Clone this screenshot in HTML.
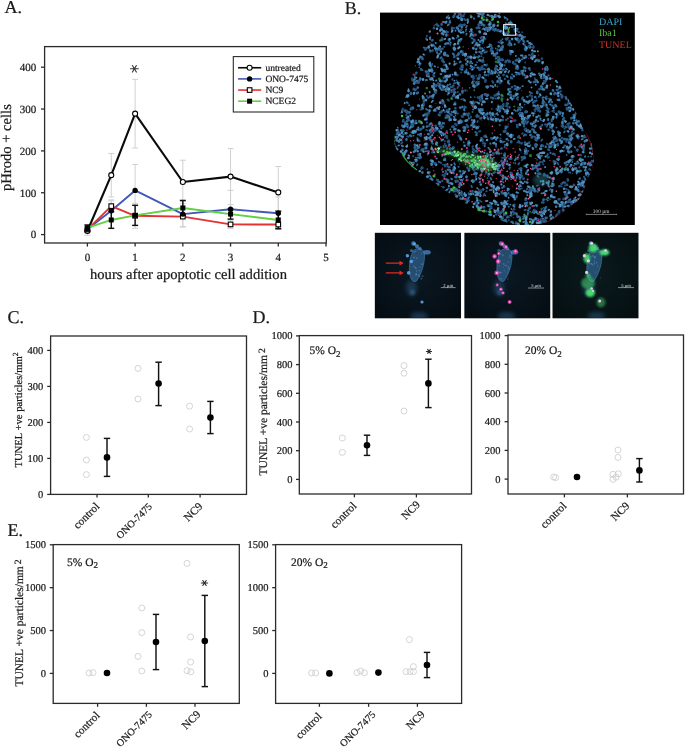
<!DOCTYPE html>
<html><head><meta charset="utf-8"><style>
html,body{margin:0;padding:0;background:#fff;}
svg{display:block;font-family:"Liberation Serif",serif;text-rendering:geometricPrecision;-webkit-font-smoothing:antialiased;will-change:transform;}
text[fill="#1a1a1a"]{stroke:#1a1a1a;stroke-width:0.22px;}
</style></head><body>
<svg width="685" height="748" viewBox="0 0 685 748">
<rect width="685" height="748" fill="#fff"/>
<text x="4.60" y="12.90" font-size="18" text-anchor="start" fill="#1a1a1a" >A.</text>
<rect x="44.60" y="46.60" width="281.70" height="196.40" stroke="#2b2b2b" stroke-width="1.3" fill="none"/>
<line x1="41.00" y1="234.60" x2="44.60" y2="234.60" stroke="#2b2b2b" stroke-width="1.3" />
<text x="36.30" y="238.40" font-size="11" text-anchor="end" fill="#1a1a1a" >0</text>
<line x1="41.00" y1="192.75" x2="44.60" y2="192.75" stroke="#2b2b2b" stroke-width="1.3" />
<text x="36.30" y="196.55" font-size="11" text-anchor="end" fill="#1a1a1a" >100</text>
<line x1="41.00" y1="150.90" x2="44.60" y2="150.90" stroke="#2b2b2b" stroke-width="1.3" />
<text x="36.30" y="154.70" font-size="11" text-anchor="end" fill="#1a1a1a" >200</text>
<line x1="41.00" y1="109.05" x2="44.60" y2="109.05" stroke="#2b2b2b" stroke-width="1.3" />
<text x="36.30" y="112.85" font-size="11" text-anchor="end" fill="#1a1a1a" >300</text>
<line x1="41.00" y1="67.20" x2="44.60" y2="67.20" stroke="#2b2b2b" stroke-width="1.3" />
<text x="36.30" y="71.00" font-size="11" text-anchor="end" fill="#1a1a1a" >400</text>
<line x1="87.40" y1="243.00" x2="87.40" y2="246.60" stroke="#2b2b2b" stroke-width="1.3" />
<text x="87.40" y="261.30" font-size="11" text-anchor="middle" fill="#1a1a1a" >0</text>
<line x1="135.12" y1="243.00" x2="135.12" y2="246.60" stroke="#2b2b2b" stroke-width="1.3" />
<text x="135.12" y="261.30" font-size="11" text-anchor="middle" fill="#1a1a1a" >1</text>
<line x1="182.84" y1="243.00" x2="182.84" y2="246.60" stroke="#2b2b2b" stroke-width="1.3" />
<text x="182.84" y="261.30" font-size="11" text-anchor="middle" fill="#1a1a1a" >2</text>
<line x1="230.56" y1="243.00" x2="230.56" y2="246.60" stroke="#2b2b2b" stroke-width="1.3" />
<text x="230.56" y="261.30" font-size="11" text-anchor="middle" fill="#1a1a1a" >3</text>
<line x1="278.28" y1="243.00" x2="278.28" y2="246.60" stroke="#2b2b2b" stroke-width="1.3" />
<text x="278.28" y="261.30" font-size="11" text-anchor="middle" fill="#1a1a1a" >4</text>
<line x1="326.00" y1="243.00" x2="326.00" y2="246.60" stroke="#2b2b2b" stroke-width="1.3" />
<text x="326.00" y="261.30" font-size="11" text-anchor="middle" fill="#1a1a1a" >5</text>
<text x="188.50" y="279.20" font-size="14.6" text-anchor="middle" fill="#1a1a1a" >hours after apoptotic cell addition</text>
<text x="0.00" y="0.00" font-size="14.6" text-anchor="middle" fill="#1a1a1a" transform="translate(10.8,147.6) rotate(-90)">pHrodo + cells</text>
<line x1="87.40" y1="226.82" x2="87.40" y2="235.19" stroke="#d0d0d0" stroke-width="1" />
<line x1="84.40" y1="226.82" x2="90.40" y2="226.82" stroke="#d0d0d0" stroke-width="1" />
<line x1="84.40" y1="235.19" x2="90.40" y2="235.19" stroke="#d0d0d0" stroke-width="1" />
<line x1="111.26" y1="153.41" x2="111.26" y2="196.94" stroke="#d0d0d0" stroke-width="1" />
<line x1="108.26" y1="153.41" x2="114.26" y2="153.41" stroke="#d0d0d0" stroke-width="1" />
<line x1="108.26" y1="196.94" x2="114.26" y2="196.94" stroke="#d0d0d0" stroke-width="1" />
<line x1="135.12" y1="79.34" x2="135.12" y2="147.97" stroke="#d0d0d0" stroke-width="1" />
<line x1="132.12" y1="79.34" x2="138.12" y2="79.34" stroke="#d0d0d0" stroke-width="1" />
<line x1="132.12" y1="147.97" x2="138.12" y2="147.97" stroke="#d0d0d0" stroke-width="1" />
<line x1="182.84" y1="160.23" x2="182.84" y2="203.76" stroke="#d0d0d0" stroke-width="1" />
<line x1="179.84" y1="160.23" x2="185.84" y2="160.23" stroke="#d0d0d0" stroke-width="1" />
<line x1="179.84" y1="203.76" x2="185.84" y2="203.76" stroke="#d0d0d0" stroke-width="1" />
<line x1="230.56" y1="148.56" x2="230.56" y2="204.64" stroke="#d0d0d0" stroke-width="1" />
<line x1="227.56" y1="148.56" x2="233.56" y2="148.56" stroke="#d0d0d0" stroke-width="1" />
<line x1="227.56" y1="204.64" x2="233.56" y2="204.64" stroke="#d0d0d0" stroke-width="1" />
<line x1="278.28" y1="166.47" x2="278.28" y2="218.36" stroke="#d0d0d0" stroke-width="1" />
<line x1="275.28" y1="166.47" x2="281.28" y2="166.47" stroke="#d0d0d0" stroke-width="1" />
<line x1="275.28" y1="218.36" x2="281.28" y2="218.36" stroke="#d0d0d0" stroke-width="1" />
<line x1="87.40" y1="225.81" x2="87.40" y2="232.51" stroke="#d0d0d0" stroke-width="1" />
<line x1="84.40" y1="225.81" x2="90.40" y2="225.81" stroke="#d0d0d0" stroke-width="1" />
<line x1="84.40" y1="232.51" x2="90.40" y2="232.51" stroke="#d0d0d0" stroke-width="1" />
<line x1="111.26" y1="200.70" x2="111.26" y2="220.79" stroke="#d0d0d0" stroke-width="1" />
<line x1="108.26" y1="200.70" x2="114.26" y2="200.70" stroke="#d0d0d0" stroke-width="1" />
<line x1="108.26" y1="220.79" x2="114.26" y2="220.79" stroke="#d0d0d0" stroke-width="1" />
<line x1="135.12" y1="164.46" x2="135.12" y2="216.35" stroke="#d0d0d0" stroke-width="1" />
<line x1="132.12" y1="164.46" x2="138.12" y2="164.46" stroke="#d0d0d0" stroke-width="1" />
<line x1="132.12" y1="216.35" x2="138.12" y2="216.35" stroke="#d0d0d0" stroke-width="1" />
<line x1="182.84" y1="201.54" x2="182.84" y2="226.65" stroke="#d0d0d0" stroke-width="1" />
<line x1="179.84" y1="201.54" x2="185.84" y2="201.54" stroke="#d0d0d0" stroke-width="1" />
<line x1="179.84" y1="226.65" x2="185.84" y2="226.65" stroke="#d0d0d0" stroke-width="1" />
<line x1="230.56" y1="190.36" x2="230.56" y2="228.03" stroke="#d0d0d0" stroke-width="1" />
<line x1="227.56" y1="190.36" x2="233.56" y2="190.36" stroke="#d0d0d0" stroke-width="1" />
<line x1="227.56" y1="228.03" x2="233.56" y2="228.03" stroke="#d0d0d0" stroke-width="1" />
<line x1="278.28" y1="196.94" x2="278.28" y2="229.58" stroke="#d0d0d0" stroke-width="1" />
<line x1="275.28" y1="196.94" x2="281.28" y2="196.94" stroke="#d0d0d0" stroke-width="1" />
<line x1="275.28" y1="229.58" x2="281.28" y2="229.58" stroke="#d0d0d0" stroke-width="1" />
<line x1="87.40" y1="226.23" x2="87.40" y2="232.93" stroke="#d0d0d0" stroke-width="1" />
<line x1="84.40" y1="226.23" x2="90.40" y2="226.23" stroke="#d0d0d0" stroke-width="1" />
<line x1="84.40" y1="232.93" x2="90.40" y2="232.93" stroke="#d0d0d0" stroke-width="1" />
<line x1="111.26" y1="199.86" x2="111.26" y2="212.42" stroke="#d0d0d0" stroke-width="1" />
<line x1="108.26" y1="199.86" x2="114.26" y2="199.86" stroke="#d0d0d0" stroke-width="1" />
<line x1="108.26" y1="212.42" x2="114.26" y2="212.42" stroke="#d0d0d0" stroke-width="1" />
<line x1="135.12" y1="203.21" x2="135.12" y2="228.32" stroke="#d0d0d0" stroke-width="1" />
<line x1="132.12" y1="203.21" x2="138.12" y2="203.21" stroke="#d0d0d0" stroke-width="1" />
<line x1="132.12" y1="228.32" x2="138.12" y2="228.32" stroke="#d0d0d0" stroke-width="1" />
<line x1="182.84" y1="206.14" x2="182.84" y2="227.07" stroke="#d0d0d0" stroke-width="1" />
<line x1="179.84" y1="206.14" x2="185.84" y2="206.14" stroke="#d0d0d0" stroke-width="1" />
<line x1="179.84" y1="227.07" x2="185.84" y2="227.07" stroke="#d0d0d0" stroke-width="1" />
<line x1="230.56" y1="220.20" x2="230.56" y2="228.57" stroke="#d0d0d0" stroke-width="1" />
<line x1="227.56" y1="220.20" x2="233.56" y2="220.20" stroke="#d0d0d0" stroke-width="1" />
<line x1="227.56" y1="228.57" x2="233.56" y2="228.57" stroke="#d0d0d0" stroke-width="1" />
<line x1="278.28" y1="221.21" x2="278.28" y2="227.90" stroke="#d0d0d0" stroke-width="1" />
<line x1="275.28" y1="221.21" x2="281.28" y2="221.21" stroke="#d0d0d0" stroke-width="1" />
<line x1="275.28" y1="227.90" x2="281.28" y2="227.90" stroke="#d0d0d0" stroke-width="1" />
<line x1="87.40" y1="224.97" x2="87.40" y2="230.83" stroke="#111" stroke-width="1.45" />
<line x1="84.40" y1="224.97" x2="90.40" y2="224.97" stroke="#111" stroke-width="1.45" />
<line x1="84.40" y1="230.83" x2="90.40" y2="230.83" stroke="#111" stroke-width="1.45" />
<line x1="111.26" y1="211.58" x2="111.26" y2="228.32" stroke="#111" stroke-width="1.45" />
<line x1="108.26" y1="211.58" x2="114.26" y2="211.58" stroke="#111" stroke-width="1.45" />
<line x1="108.26" y1="228.32" x2="114.26" y2="228.32" stroke="#111" stroke-width="1.45" />
<line x1="135.12" y1="205.31" x2="135.12" y2="225.39" stroke="#111" stroke-width="1.45" />
<line x1="132.12" y1="205.31" x2="138.12" y2="205.31" stroke="#111" stroke-width="1.45" />
<line x1="132.12" y1="225.39" x2="138.12" y2="225.39" stroke="#111" stroke-width="1.45" />
<line x1="182.84" y1="200.45" x2="182.84" y2="215.52" stroke="#111" stroke-width="1.45" />
<line x1="179.84" y1="200.45" x2="185.84" y2="200.45" stroke="#111" stroke-width="1.45" />
<line x1="179.84" y1="215.52" x2="185.84" y2="215.52" stroke="#111" stroke-width="1.45" />
<line x1="230.56" y1="209.07" x2="230.56" y2="219.12" stroke="#111" stroke-width="1.45" />
<line x1="227.56" y1="209.07" x2="233.56" y2="209.07" stroke="#111" stroke-width="1.45" />
<line x1="227.56" y1="219.12" x2="233.56" y2="219.12" stroke="#111" stroke-width="1.45" />
<line x1="278.28" y1="211.16" x2="278.28" y2="228.74" stroke="#111" stroke-width="1.45" />
<line x1="275.28" y1="211.16" x2="281.28" y2="211.16" stroke="#111" stroke-width="1.45" />
<line x1="275.28" y1="228.74" x2="281.28" y2="228.74" stroke="#111" stroke-width="1.45" />
<polyline points="87.40,231.00 111.26,175.17 135.12,113.65 182.84,181.99 230.56,176.60 278.28,192.42" fill="none" stroke="#0a0a0a" stroke-width="2.1" stroke-linejoin="round"/>
<polyline points="87.40,229.16 111.26,210.75 135.12,190.41 182.84,214.09 230.56,209.20 278.28,213.26" fill="none" stroke="#4258b8" stroke-width="1.9" stroke-linejoin="round"/>
<polyline points="87.40,229.58 111.26,206.14 135.12,215.77 182.84,216.60 230.56,224.39 278.28,224.56" fill="none" stroke="#e23232" stroke-width="1.9" stroke-linejoin="round"/>
<polyline points="87.40,227.90 111.26,219.95 135.12,215.35 182.84,207.98 230.56,214.09 278.28,219.95" fill="none" stroke="#62d040" stroke-width="1.9" stroke-linejoin="round"/>
<circle cx="87.40" cy="231.00" r="2.5" fill="#fff" stroke="#000" stroke-width="1.1"/>
<circle cx="111.26" cy="175.17" r="2.5" fill="#fff" stroke="#000" stroke-width="1.1"/>
<circle cx="135.12" cy="113.65" r="2.5" fill="#fff" stroke="#000" stroke-width="1.1"/>
<circle cx="182.84" cy="181.99" r="2.5" fill="#fff" stroke="#000" stroke-width="1.1"/>
<circle cx="230.56" cy="176.60" r="2.5" fill="#fff" stroke="#000" stroke-width="1.1"/>
<circle cx="278.28" cy="192.42" r="2.5" fill="#fff" stroke="#000" stroke-width="1.1"/>
<rect x="85.10" y="227.28" width="4.6" height="4.6" fill="#fff" stroke="#000" stroke-width="1.1"/>
<rect x="108.96" y="203.84" width="4.6" height="4.6" fill="#fff" stroke="#000" stroke-width="1.1"/>
<rect x="132.82" y="213.47" width="4.6" height="4.6" fill="#fff" stroke="#000" stroke-width="1.1"/>
<rect x="180.54" y="214.30" width="4.6" height="4.6" fill="#fff" stroke="#000" stroke-width="1.1"/>
<rect x="228.26" y="222.09" width="4.6" height="4.6" fill="#fff" stroke="#000" stroke-width="1.1"/>
<rect x="275.98" y="222.26" width="4.6" height="4.6" fill="#fff" stroke="#000" stroke-width="1.1"/>
<circle cx="87.40" cy="229.16" r="2.7" fill="#000"/>
<circle cx="111.26" cy="210.75" r="2.7" fill="#000"/>
<circle cx="135.12" cy="190.41" r="2.7" fill="#000"/>
<circle cx="182.84" cy="214.09" r="2.7" fill="#000"/>
<circle cx="230.56" cy="209.20" r="2.7" fill="#000"/>
<circle cx="278.28" cy="213.26" r="2.7" fill="#000"/>
<rect x="84.90" y="225.40" width="5" height="5" fill="#000"/>
<rect x="108.76" y="217.45" width="5" height="5" fill="#000"/>
<rect x="132.62" y="212.85" width="5" height="5" fill="#000"/>
<rect x="180.34" y="205.48" width="5" height="5" fill="#000"/>
<rect x="228.06" y="211.59" width="5" height="5" fill="#000"/>
<rect x="275.78" y="217.45" width="5" height="5" fill="#000"/>
<path d="M130.50,68.80 H138.30 M132.45,65.55 Q134.40,68.80 136.35,72.05 M136.35,65.55 Q134.40,68.80 132.45,72.05" stroke="#333" stroke-width="1.1" stroke-linecap="round" fill="none"/>
<rect x="233.30" y="56.60" width="80.50" height="55.40" stroke="#2b2b2b" stroke-width="1.1" fill="none"/>
<line x1="238.10" y1="67.75" x2="261.20" y2="67.75" stroke="#0a0a0a" stroke-width="1.6" />
<circle cx="249.60" cy="67.75" r="2.5" fill="#fff" stroke="#000" stroke-width="1.1"/>
<text x="265.40" y="70.80" font-size="9.5" text-anchor="start" fill="#1a1a1a" >untreated</text>
<line x1="238.10" y1="78.90" x2="261.20" y2="78.90" stroke="#4258b8" stroke-width="1.6" />
<circle cx="249.60" cy="78.90" r="2.7" fill="#000"/>
<text x="265.40" y="81.95" font-size="9.5" text-anchor="start" fill="#1a1a1a" >ONO-7475</text>
<line x1="238.10" y1="90.05" x2="261.20" y2="90.05" stroke="#e23232" stroke-width="1.6" />
<rect x="247.30" y="87.75" width="4.6" height="4.6" fill="#fff" stroke="#000" stroke-width="1.1"/>
<text x="265.40" y="93.10" font-size="9.5" text-anchor="start" fill="#1a1a1a" >NC9</text>
<line x1="238.10" y1="101.20" x2="261.20" y2="101.20" stroke="#62d040" stroke-width="1.6" />
<rect x="247.10" y="98.70" width="5" height="5" fill="#000"/>
<text x="265.40" y="104.25" font-size="9.5" text-anchor="start" fill="#1a1a1a" >NCEG2</text>
<text x="7.50" y="323.20" font-size="18" text-anchor="start" fill="#1a1a1a" >C.</text>
<rect x="50.60" y="336.00" width="195.90" height="158.40" stroke="#2b2b2b" stroke-width="1.3" fill="none"/>
<line x1="47.20" y1="494.40" x2="50.60" y2="494.40" stroke="#2b2b2b" stroke-width="1.3" />
<text x="43.20" y="498.00" font-size="10.5" text-anchor="end" fill="#1a1a1a" >0</text>
<line x1="47.20" y1="458.40" x2="50.60" y2="458.40" stroke="#2b2b2b" stroke-width="1.3" />
<text x="43.20" y="462.00" font-size="10.5" text-anchor="end" fill="#1a1a1a" >100</text>
<line x1="47.20" y1="422.40" x2="50.60" y2="422.40" stroke="#2b2b2b" stroke-width="1.3" />
<text x="43.20" y="426.00" font-size="10.5" text-anchor="end" fill="#1a1a1a" >200</text>
<line x1="47.20" y1="386.40" x2="50.60" y2="386.40" stroke="#2b2b2b" stroke-width="1.3" />
<text x="43.20" y="390.00" font-size="10.5" text-anchor="end" fill="#1a1a1a" >300</text>
<line x1="47.20" y1="350.40" x2="50.60" y2="350.40" stroke="#2b2b2b" stroke-width="1.3" />
<text x="43.20" y="354.00" font-size="10.5" text-anchor="end" fill="#1a1a1a" >400</text>
<line x1="97.00" y1="494.40" x2="97.00" y2="497.60" stroke="#2b2b2b" stroke-width="1.3" />
<line x1="148.30" y1="494.40" x2="148.30" y2="497.60" stroke="#2b2b2b" stroke-width="1.3" />
<line x1="200.10" y1="494.40" x2="200.10" y2="497.60" stroke="#2b2b2b" stroke-width="1.3" />
<circle cx="86.40" cy="437.40" r="3.0" fill="none" stroke="#cacaca" stroke-width="0.8"/>
<circle cx="86.40" cy="460.00" r="3.0" fill="none" stroke="#cacaca" stroke-width="0.8"/>
<circle cx="86.40" cy="474.60" r="3.0" fill="none" stroke="#cacaca" stroke-width="0.8"/>
<line x1="107.00" y1="438.40" x2="107.00" y2="476.40" stroke="#111" stroke-width="1.45" />
<line x1="103.80" y1="438.40" x2="110.20" y2="438.40" stroke="#111" stroke-width="1.45" />
<line x1="103.80" y1="476.40" x2="110.20" y2="476.40" stroke="#111" stroke-width="1.45" />
<circle cx="107.00" cy="457.40" r="3.3" fill="#000"/>
<circle cx="138.00" cy="368.40" r="3.0" fill="none" stroke="#cacaca" stroke-width="0.8"/>
<circle cx="138.00" cy="399.00" r="3.0" fill="none" stroke="#cacaca" stroke-width="0.8"/>
<line x1="158.60" y1="362.20" x2="158.60" y2="405.60" stroke="#111" stroke-width="1.45" />
<line x1="155.40" y1="362.20" x2="161.80" y2="362.20" stroke="#111" stroke-width="1.45" />
<line x1="155.40" y1="405.60" x2="161.80" y2="405.60" stroke="#111" stroke-width="1.45" />
<circle cx="158.60" cy="383.60" r="3.3" fill="#000"/>
<circle cx="189.60" cy="406.20" r="3.0" fill="none" stroke="#cacaca" stroke-width="0.8"/>
<circle cx="189.60" cy="429.00" r="3.0" fill="none" stroke="#cacaca" stroke-width="0.8"/>
<line x1="210.40" y1="401.40" x2="210.40" y2="433.60" stroke="#111" stroke-width="1.45" />
<line x1="207.20" y1="401.40" x2="213.60" y2="401.40" stroke="#111" stroke-width="1.45" />
<line x1="207.20" y1="433.60" x2="213.60" y2="433.60" stroke="#111" stroke-width="1.45" />
<circle cx="210.40" cy="417.60" r="3.3" fill="#000"/>
<text x="0" y="0" font-size="11.2" text-anchor="end" fill="#1a1a1a" transform="translate(100.20,507.10) rotate(-45)">control</text>
<text x="0" y="0" font-size="10.2" text-anchor="end" fill="#1a1a1a" transform="translate(152.70,507.10) rotate(-45)">ONO-7475</text>
<text x="0" y="0" font-size="11.2" text-anchor="end" fill="#1a1a1a" transform="translate(203.20,507.10) rotate(-45)">NC9</text>
<text x="0" y="0" font-size="10.65" fill="#1a1a1a" transform="translate(21.9,467.6) rotate(-90)">TUNEL +ve particles/mm<tspan font-size="7.8" dy="-3.9">2</tspan></text>
<text x="252.40" y="323.20" font-size="18" text-anchor="start" fill="#1a1a1a" >D.</text>
<rect x="299.30" y="335.60" width="172.20" height="158.40" stroke="#2b2b2b" stroke-width="1.3" fill="none"/>
<line x1="296.00" y1="479.40" x2="299.30" y2="479.40" stroke="#2b2b2b" stroke-width="1.3" />
<text x="292.60" y="482.90" font-size="10.5" text-anchor="end" fill="#1a1a1a" >0</text>
<line x1="296.00" y1="450.70" x2="299.30" y2="450.70" stroke="#2b2b2b" stroke-width="1.3" />
<text x="292.60" y="454.20" font-size="10.5" text-anchor="end" fill="#1a1a1a" >200</text>
<line x1="296.00" y1="422.00" x2="299.30" y2="422.00" stroke="#2b2b2b" stroke-width="1.3" />
<text x="292.60" y="425.50" font-size="10.5" text-anchor="end" fill="#1a1a1a" >400</text>
<line x1="296.00" y1="393.30" x2="299.30" y2="393.30" stroke="#2b2b2b" stroke-width="1.3" />
<text x="292.60" y="396.80" font-size="10.5" text-anchor="end" fill="#1a1a1a" >600</text>
<line x1="296.00" y1="364.60" x2="299.30" y2="364.60" stroke="#2b2b2b" stroke-width="1.3" />
<text x="292.60" y="368.10" font-size="10.5" text-anchor="end" fill="#1a1a1a" >800</text>
<line x1="296.00" y1="335.90" x2="299.30" y2="335.90" stroke="#2b2b2b" stroke-width="1.3" />
<text x="292.60" y="339.40" font-size="10.5" text-anchor="end" fill="#1a1a1a" >1000</text>
<line x1="354.40" y1="494.00" x2="354.40" y2="497.40" stroke="#2b2b2b" stroke-width="1.3" />
<line x1="416.40" y1="494.00" x2="416.40" y2="497.40" stroke="#2b2b2b" stroke-width="1.3" />
<text x="309.6" y="354.4" font-size="11.5" fill="#1a1a1a">5% O<tspan font-size="9" dy="2.6">2</tspan></text>
<circle cx="342.40" cy="438.00" r="3.0" fill="none" stroke="#cacaca" stroke-width="0.8"/>
<circle cx="342.40" cy="452.40" r="3.0" fill="none" stroke="#cacaca" stroke-width="0.8"/>
<line x1="367.00" y1="435.20" x2="367.00" y2="455.40" stroke="#111" stroke-width="1.45" />
<line x1="363.80" y1="435.20" x2="370.20" y2="435.20" stroke="#111" stroke-width="1.45" />
<line x1="363.80" y1="455.40" x2="370.20" y2="455.40" stroke="#111" stroke-width="1.45" />
<circle cx="367.00" cy="445.30" r="3.3" fill="#000"/>
<circle cx="404.00" cy="365.60" r="3.0" fill="none" stroke="#cacaca" stroke-width="0.8"/>
<circle cx="404.00" cy="373.20" r="3.0" fill="none" stroke="#cacaca" stroke-width="0.8"/>
<circle cx="404.00" cy="411.00" r="3.0" fill="none" stroke="#cacaca" stroke-width="0.8"/>
<line x1="428.40" y1="359.20" x2="428.40" y2="407.60" stroke="#111" stroke-width="1.45" />
<line x1="425.20" y1="359.20" x2="431.60" y2="359.20" stroke="#111" stroke-width="1.45" />
<line x1="425.20" y1="407.60" x2="431.60" y2="407.60" stroke="#111" stroke-width="1.45" />
<circle cx="428.40" cy="383.40" r="3.3" fill="#000"/>
<path d="M426.40,351.40 H431.60 M427.65,349.40 Q429.00,351.40 430.35,353.40 M430.35,349.40 Q429.00,351.40 427.65,353.40" stroke="#2a2a2a" stroke-width="1.05" stroke-linecap="round" fill="none"/>
<text x="0" y="0" font-size="11.2" text-anchor="end" fill="#1a1a1a" transform="translate(357.20,506.60) rotate(-45)">control</text>
<text x="0" y="0" font-size="11.2" text-anchor="end" fill="#1a1a1a" transform="translate(420.80,505.30) rotate(-45)">NC9</text>
<text x="0" y="0" font-size="11.5" fill="#1a1a1a" transform="translate(266.9,475.4) rotate(-90)">TUNEL +ve particles/mm<tspan font-size="9.6" dx="2" dy="-1.8">2</tspan></text>
<rect x="508.00" y="335.00" width="175.50" height="159.00" stroke="#2b2b2b" stroke-width="1.3" fill="none"/>
<line x1="504.60" y1="479.10" x2="508.00" y2="479.10" stroke="#2b2b2b" stroke-width="1.3" />
<text x="500.60" y="482.60" font-size="10.5" text-anchor="end" fill="#1a1a1a" >0</text>
<line x1="504.60" y1="450.40" x2="508.00" y2="450.40" stroke="#2b2b2b" stroke-width="1.3" />
<text x="500.60" y="453.90" font-size="10.5" text-anchor="end" fill="#1a1a1a" >200</text>
<line x1="504.60" y1="421.70" x2="508.00" y2="421.70" stroke="#2b2b2b" stroke-width="1.3" />
<text x="500.60" y="425.20" font-size="10.5" text-anchor="end" fill="#1a1a1a" >400</text>
<line x1="504.60" y1="393.00" x2="508.00" y2="393.00" stroke="#2b2b2b" stroke-width="1.3" />
<text x="500.60" y="396.50" font-size="10.5" text-anchor="end" fill="#1a1a1a" >600</text>
<line x1="504.60" y1="364.30" x2="508.00" y2="364.30" stroke="#2b2b2b" stroke-width="1.3" />
<text x="500.60" y="367.80" font-size="10.5" text-anchor="end" fill="#1a1a1a" >800</text>
<line x1="504.60" y1="335.60" x2="508.00" y2="335.60" stroke="#2b2b2b" stroke-width="1.3" />
<text x="500.60" y="339.10" font-size="10.5" text-anchor="end" fill="#1a1a1a" >1000</text>
<line x1="564.40" y1="494.00" x2="564.40" y2="497.40" stroke="#2b2b2b" stroke-width="1.3" />
<line x1="627.40" y1="494.00" x2="627.40" y2="497.40" stroke="#2b2b2b" stroke-width="1.3" />
<text x="525.0" y="354.4" font-size="11.5" fill="#1a1a1a">20% O<tspan font-size="9" dy="2.6">2</tspan></text>
<circle cx="553.60" cy="477.00" r="3.0" fill="none" stroke="#cacaca" stroke-width="0.8"/>
<circle cx="555.60" cy="477.60" r="3.0" fill="none" stroke="#cacaca" stroke-width="0.8"/>
<circle cx="577.00" cy="477.00" r="3.3" fill="#000"/>
<circle cx="618.00" cy="450.00" r="3.0" fill="none" stroke="#cacaca" stroke-width="0.8"/>
<circle cx="618.00" cy="457.40" r="3.0" fill="none" stroke="#cacaca" stroke-width="0.8"/>
<circle cx="613.00" cy="479.30" r="3.0" fill="none" stroke="#cacaca" stroke-width="0.8"/>
<circle cx="616.00" cy="477.20" r="3.0" fill="none" stroke="#cacaca" stroke-width="0.8"/>
<circle cx="613.00" cy="474.30" r="3.0" fill="none" stroke="#cacaca" stroke-width="0.8"/>
<circle cx="618.40" cy="473.80" r="3.0" fill="none" stroke="#cacaca" stroke-width="0.8"/>
<line x1="639.40" y1="458.60" x2="639.40" y2="482.00" stroke="#111" stroke-width="1.45" />
<line x1="636.20" y1="458.60" x2="642.60" y2="458.60" stroke="#111" stroke-width="1.45" />
<line x1="636.20" y1="482.00" x2="642.60" y2="482.00" stroke="#111" stroke-width="1.45" />
<circle cx="639.40" cy="470.40" r="3.3" fill="#000"/>
<text x="0" y="0" font-size="11.2" text-anchor="end" fill="#1a1a1a" transform="translate(567.20,506.60) rotate(-45)">control</text>
<text x="0" y="0" font-size="11.2" text-anchor="end" fill="#1a1a1a" transform="translate(630.20,506.60) rotate(-45)">NC9</text>
<text x="7.50" y="535.80" font-size="18" text-anchor="start" fill="#1a1a1a" >E.</text>
<rect x="53.20" y="544.60" width="186.10" height="158.80" stroke="#2b2b2b" stroke-width="1.3" fill="none"/>
<line x1="49.80" y1="673.40" x2="53.20" y2="673.40" stroke="#2b2b2b" stroke-width="1.3" />
<text x="46.00" y="676.90" font-size="10.5" text-anchor="end" fill="#1a1a1a" >0</text>
<line x1="49.80" y1="630.53" x2="53.20" y2="630.53" stroke="#2b2b2b" stroke-width="1.3" />
<text x="46.00" y="634.03" font-size="10.5" text-anchor="end" fill="#1a1a1a" >500</text>
<line x1="49.80" y1="587.67" x2="53.20" y2="587.67" stroke="#2b2b2b" stroke-width="1.3" />
<text x="46.00" y="591.17" font-size="10.5" text-anchor="end" fill="#1a1a1a" >1000</text>
<line x1="49.80" y1="544.80" x2="53.20" y2="544.80" stroke="#2b2b2b" stroke-width="1.3" />
<text x="46.00" y="548.30" font-size="10.5" text-anchor="end" fill="#1a1a1a" >1500</text>
<line x1="97.60" y1="703.40" x2="97.60" y2="706.80" stroke="#2b2b2b" stroke-width="1.3" />
<line x1="146.40" y1="703.40" x2="146.40" y2="706.80" stroke="#2b2b2b" stroke-width="1.3" />
<line x1="195.00" y1="703.40" x2="195.00" y2="706.80" stroke="#2b2b2b" stroke-width="1.3" />
<text x="67.0" y="565.6" font-size="11.5" fill="#1a1a1a">5% O<tspan font-size="9" dy="2.6">2</tspan></text>
<circle cx="89.00" cy="673.00" r="3.0" fill="none" stroke="#cacaca" stroke-width="0.8"/>
<circle cx="93.00" cy="672.60" r="3.0" fill="none" stroke="#cacaca" stroke-width="0.8"/>
<circle cx="107.00" cy="673.00" r="3.3" fill="#000"/>
<circle cx="141.80" cy="608.00" r="3.0" fill="none" stroke="#cacaca" stroke-width="0.8"/>
<circle cx="141.80" cy="632.60" r="3.0" fill="none" stroke="#cacaca" stroke-width="0.8"/>
<circle cx="138.00" cy="656.40" r="3.0" fill="none" stroke="#cacaca" stroke-width="0.8"/>
<circle cx="141.80" cy="671.00" r="3.0" fill="none" stroke="#cacaca" stroke-width="0.8"/>
<line x1="156.00" y1="614.40" x2="156.00" y2="669.60" stroke="#111" stroke-width="1.45" />
<line x1="152.80" y1="614.40" x2="159.20" y2="614.40" stroke="#111" stroke-width="1.45" />
<line x1="152.80" y1="669.60" x2="159.20" y2="669.60" stroke="#111" stroke-width="1.45" />
<circle cx="156.00" cy="642.00" r="3.3" fill="#000"/>
<circle cx="187.00" cy="563.40" r="3.0" fill="none" stroke="#cacaca" stroke-width="0.8"/>
<circle cx="190.60" cy="637.00" r="3.0" fill="none" stroke="#cacaca" stroke-width="0.8"/>
<circle cx="190.60" cy="662.00" r="3.0" fill="none" stroke="#cacaca" stroke-width="0.8"/>
<circle cx="187.00" cy="670.60" r="3.0" fill="none" stroke="#cacaca" stroke-width="0.8"/>
<circle cx="190.80" cy="671.80" r="3.0" fill="none" stroke="#cacaca" stroke-width="0.8"/>
<line x1="204.80" y1="595.40" x2="204.80" y2="686.60" stroke="#111" stroke-width="1.45" />
<line x1="201.60" y1="595.40" x2="208.00" y2="595.40" stroke="#111" stroke-width="1.45" />
<line x1="201.60" y1="686.60" x2="208.00" y2="686.60" stroke="#111" stroke-width="1.45" />
<circle cx="204.80" cy="641.00" r="3.3" fill="#000"/>
<path d="M201.40,583.00 H207.60 M202.80,580.50 Q204.50,583.00 206.20,585.50 M206.20,580.50 Q204.50,583.00 202.80,585.50" stroke="#2a2a2a" stroke-width="1.15" stroke-linecap="round" fill="none"/>
<text x="0" y="0" font-size="11.2" text-anchor="end" fill="#1a1a1a" transform="translate(100.50,716.10) rotate(-45)">control</text>
<text x="0" y="0" font-size="10.2" text-anchor="end" fill="#1a1a1a" transform="translate(152.70,715.10) rotate(-45)">ONO-7475</text>
<text x="0" y="0" font-size="11.2" text-anchor="end" fill="#1a1a1a" transform="translate(201.20,715.10) rotate(-45)">NC9</text>
<text x="0" y="0" font-size="11.5" fill="#1a1a1a" transform="translate(22.8,686.6) rotate(-90)">TUNEL +ve particles/mm<tspan font-size="9.6" dx="2" dy="-1.8">2</tspan></text>
<rect x="275.60" y="544.60" width="186.00" height="158.80" stroke="#2b2b2b" stroke-width="1.3" fill="none"/>
<line x1="272.20" y1="673.40" x2="275.60" y2="673.40" stroke="#2b2b2b" stroke-width="1.3" />
<text x="268.40" y="676.90" font-size="10.5" text-anchor="end" fill="#1a1a1a" >0</text>
<line x1="272.20" y1="630.53" x2="275.60" y2="630.53" stroke="#2b2b2b" stroke-width="1.3" />
<text x="268.40" y="634.03" font-size="10.5" text-anchor="end" fill="#1a1a1a" >500</text>
<line x1="272.20" y1="587.67" x2="275.60" y2="587.67" stroke="#2b2b2b" stroke-width="1.3" />
<text x="268.40" y="591.17" font-size="10.5" text-anchor="end" fill="#1a1a1a" >1000</text>
<line x1="272.20" y1="544.80" x2="275.60" y2="544.80" stroke="#2b2b2b" stroke-width="1.3" />
<text x="268.40" y="548.30" font-size="10.5" text-anchor="end" fill="#1a1a1a" >1500</text>
<line x1="319.40" y1="703.40" x2="319.40" y2="706.80" stroke="#2b2b2b" stroke-width="1.3" />
<line x1="368.60" y1="703.40" x2="368.60" y2="706.80" stroke="#2b2b2b" stroke-width="1.3" />
<line x1="417.40" y1="703.40" x2="417.40" y2="706.80" stroke="#2b2b2b" stroke-width="1.3" />
<text x="291.0" y="565.6" font-size="11.5" fill="#1a1a1a">20% O<tspan font-size="9" dy="2.6">2</tspan></text>
<circle cx="311.60" cy="673.00" r="3.0" fill="none" stroke="#cacaca" stroke-width="0.8"/>
<circle cx="315.60" cy="673.00" r="3.0" fill="none" stroke="#cacaca" stroke-width="0.8"/>
<circle cx="329.40" cy="673.40" r="3.3" fill="#000"/>
<circle cx="357.00" cy="672.60" r="3.0" fill="none" stroke="#cacaca" stroke-width="0.8"/>
<circle cx="360.60" cy="671.00" r="3.0" fill="none" stroke="#cacaca" stroke-width="0.8"/>
<circle cx="364.40" cy="672.80" r="3.0" fill="none" stroke="#cacaca" stroke-width="0.8"/>
<circle cx="378.40" cy="672.60" r="3.3" fill="#000"/>
<circle cx="409.40" cy="639.60" r="3.0" fill="none" stroke="#cacaca" stroke-width="0.8"/>
<circle cx="406.00" cy="671.60" r="3.0" fill="none" stroke="#cacaca" stroke-width="0.8"/>
<circle cx="410.00" cy="671.60" r="3.0" fill="none" stroke="#cacaca" stroke-width="0.8"/>
<circle cx="413.40" cy="671.60" r="3.0" fill="none" stroke="#cacaca" stroke-width="0.8"/>
<circle cx="413.40" cy="666.60" r="3.0" fill="none" stroke="#cacaca" stroke-width="0.8"/>
<line x1="427.00" y1="652.40" x2="427.00" y2="677.60" stroke="#111" stroke-width="1.45" />
<line x1="423.80" y1="652.40" x2="430.20" y2="652.40" stroke="#111" stroke-width="1.45" />
<line x1="423.80" y1="677.60" x2="430.20" y2="677.60" stroke="#111" stroke-width="1.45" />
<circle cx="427.00" cy="665.00" r="3.3" fill="#000"/>
<text x="0" y="0" font-size="11.2" text-anchor="end" fill="#1a1a1a" transform="translate(322.50,717.10) rotate(-45)">control</text>
<text x="0" y="0" font-size="10.2" text-anchor="end" fill="#1a1a1a" transform="translate(376.20,715.10) rotate(-45)">ONO-7475</text>
<text x="0" y="0" font-size="11.2" text-anchor="end" fill="#1a1a1a" transform="translate(425.50,715.10) rotate(-45)">NC9</text>
<text x="344.80" y="13.50" font-size="18" text-anchor="start" fill="#1a1a1a" >B.</text>
<defs><clipPath id="blob"><path d="M452,13 L500,13 L510,20 L521,30 L538,50 L550,70 L563,90 L575,110 L584,130 L591,140 L593,150 L594,160 L592,170 L587,180 L584,190 L579,200 L568,208 L558,216 L548,222 L535,225 L515,225 L508,223 L494,218 L476,210 L460,200 L444,190 L430,180 L415,170 L401,156 L394,146 L395,130 L400,114 L404,102.6 L408,88 L412.7,73.4 L417.5,58 L423,44 L428.8,29.6 L437.5,22.3 L445,17 Z"/></clipPath></defs>
<rect x="380" y="12.6" width="254.8" height="212.4" fill="#000"/>
<defs><filter id="cblur" x="0" y="0" width="100%" height="100%" filterUnits="userSpaceOnUse"><feGaussianBlur stdDeviation="0.55"/></filter></defs>
<g clip-path="url(#blob)"><g filter="url(#cblur)" fill="none" stroke-linecap="round">
<path stroke="#24507a" stroke-width="1.8" d="M496.8 152.1l0.0 0.0M427.6 144.8l-0.0 0.0M445.8 106.9l-1.1 0.4M567.0 139.5l0.0 0.0M457.9 41.8l0.4 0.2M429.7 110.5l-0.3 1.6M491.9 108.9l0.0 0.0M406.0 115.1l0.8 0.0M524.9 141.8l-0.3 0.7M562.5 96.1l-1.2 0.2M580.6 154.5l0.6 1.0M407.1 136.3l1.5 0.5M474.7 97.1l0.0 0.0M486.8 191.2l-0.7 0.3M543.5 164.2l-0.4 0.1M487.0 64.3l-0.4 1.5M528.9 55.1l-0.0 0.0M550.1 123.0l-0.0 0.0M542.1 120.6l0.0 0.0M519.1 154.9l-0.5 0.6M537.8 185.5l-1.2 0.3M525.0 202.8l0.3 0.7M494.7 153.5l-0.1 0.4M451.6 97.3l0.4 1.6M557.9 115.2l0.0 0.0M554.9 154.1l0.2 1.2M405.7 110.0l1.5 0.7M521.9 114.9l0.6 1.0M396.2 147.0l0.5 1.1M473.1 180.8l0.1 1.2M443.8 65.1l0.4 0.1M526.3 216.1l0.8 0.0M567.1 184.2l0.5 1.1M488.1 74.9l0.1 0.8M558.4 89.2l0.1 0.4M566.7 154.8l-0.1 0.4M496.4 140.3l0.0 0.0M508.8 220.2l-0.0 0.0M516.4 177.9l-0.0 0.8M445.0 141.1l-0.0 0.0M508.5 80.5l0.4 0.1M477.3 67.6l1.0 0.6M524.6 104.6l-0.0 0.0M463.3 179.0l-0.0 0.0M518.1 142.3l-0.8 0.2M504.8 194.0l-0.6 0.5M583.6 152.5l-0.0 0.0M523.8 70.0l0.0 0.0M436.8 90.6l-0.0 0.0M444.0 38.8l-0.3 0.3M463.2 24.8l-0.2 0.8M534.5 105.3l-0.0 0.0M544.2 78.0l-0.4 0.2M421.5 167.1l1.3 0.9M473.0 146.2l-0.6 0.5M460.4 41.5l0.0 0.0M471.3 160.6l0.0 0.0M540.7 120.0l0.0 0.0M457.1 37.6l-0.4 0.2M520.2 168.5l-1.1 0.5M535.5 105.4l0.2 1.2M561.6 170.6l-0.0 0.0M474.2 54.9l0.0 0.0M486.4 17.8l0.0 0.0M398.3 130.0l-1.2 0.2M574.1 114.9l1.1 0.4M554.2 112.3l0.0 0.0M458.4 160.8l-0.0 0.0M501.0 108.6l-0.7 1.4M506.0 213.3l-0.3 1.6M475.8 102.0l-0.4 0.2M397.1 132.5l-0.0 0.4M584.3 144.9l-0.3 0.2M497.5 49.1l-0.1 1.6M444.5 164.7l0.0 0.0M444.9 143.5l0.0 1.2M490.9 138.3l1.1 0.4M460.0 136.4l-0.7 0.4M402.4 125.0l-0.3 0.2M440.1 80.8l1.2 1.1M518.4 67.3l-0.5 0.6M488.2 24.8l0.9 0.8M536.0 139.6l0.3 0.3M516.3 158.1l1.4 0.9M410.1 120.7l0.0 0.0M426.3 130.0l1.2 0.3M534.8 78.1l0.3 1.2M483.3 16.1l0.9 0.8M439.5 123.7l0.0 0.0M445.1 76.9l0.0 0.0M446.2 172.5l-1.1 1.2M525.2 62.5l0.0 0.0M531.5 195.6l0.3 0.3M481.6 178.4l-1.2 0.3M413.1 156.0l0.3 0.2M479.7 207.4l0.8 0.1M444.2 110.8l0.8 1.4M484.8 68.9l0.4 0.7M432.8 151.5l0.5 0.7M460.4 174.3l0.0 0.0M412.3 124.3l0.8 0.2M561.0 186.1l0.7 0.4M563.9 209.8l-0.3 1.2M457.7 180.4l0.0 0.0M513.9 98.3l0.0 0.0M534.8 110.9l0.4 0.2M543.8 207.7l1.2 1.1M479.8 200.5l0.2 0.3M441.1 51.4l0.0 0.0M460.0 182.5l0.0 0.0M525.7 148.1l0.7 1.4M457.6 91.9l0.3 0.2M480.9 190.1l-0.2 0.3M508.9 158.3l0.0 0.0"/>
<path stroke="#24507a" stroke-width="2.2" d="M489.5 113.7l-0.0 0.0M498.7 208.1l0.0 0.0M411.0 107.8l-0.0 0.0M433.4 74.8l0.5 1.1M441.9 28.9l-0.4 0.0M579.6 155.1l-0.0 0.0M521.0 106.9l-0.4 0.0M546.4 113.7l0.0 0.0M532.3 136.4l-0.5 0.7M463.6 100.1l0.0 0.0M440.5 147.0l0.0 0.0M431.2 78.0l-1.1 0.4M462.5 51.4l0.0 0.0M449.0 145.8l0.0 0.0M489.3 114.1l-0.0 0.0M480.1 131.2l-0.8 0.2M553.4 183.8l-0.0 0.0M467.0 200.5l0.8 0.1M476.0 82.7l-0.0 0.0M511.2 135.7l0.3 0.2M530.8 134.6l-0.4 0.1M464.5 13.8l0.0 0.0M440.7 162.7l0.3 0.2M547.7 111.0l1.0 1.2M482.3 37.0l0.8 0.2M521.8 114.3l-0.0 0.0M485.7 135.4l0.1 1.6M566.5 189.1l0.2 0.4M532.1 72.8l0.0 0.0M529.7 95.3l0.4 0.0M482.8 109.3l-1.1 0.5M432.2 79.4l-0.0 0.0M543.6 101.7l1.2 1.1M450.1 152.0l-0.8 0.9M505.6 126.3l-0.0 0.0M478.5 108.9l0.9 0.7M534.2 219.7l-0.4 0.7M507.4 109.4l-0.3 0.3M537.4 175.7l0.8 0.9M467.3 150.6l-0.4 1.1M508.4 44.6l1.0 0.7M516.3 175.8l-0.0 0.0M491.8 17.3l0.3 0.3M466.6 179.5l1.1 0.5M447.3 147.7l-0.2 1.2M494.8 16.4l0.0 0.0M515.2 30.9l-0.3 0.7M473.4 106.6l0.0 0.4M589.3 169.0l0.9 0.8M455.1 89.1l-0.6 0.5M407.8 103.1l-0.0 0.0M427.0 122.7l-0.0 0.0M528.8 115.8l0.4 0.2M506.1 195.6l-0.8 0.0M566.2 141.7l0.0 0.0M468.1 141.9l-0.1 0.4M578.8 191.5l0.8 0.0M402.2 142.4l-1.0 1.2M477.9 207.9l0.0 0.0M514.8 25.3l-0.4 0.7M447.8 99.6l0.9 0.8M454.3 49.6l-0.0 0.0M416.5 88.8l-0.6 0.6M497.1 53.5l0.0 0.0M436.9 179.5l-0.0 0.0M474.2 107.8l-0.0 0.0M432.2 64.1l-0.5 1.1M521.7 188.5l-0.0 0.0M457.8 113.6l0.0 0.0M541.4 211.0l0.0 0.0M463.1 99.1l0.0 0.0M549.1 129.6l-0.8 0.1M477.7 97.3l0.9 0.8M532.5 53.1l-0.5 1.5M500.4 138.6l-0.0 0.0M536.8 106.5l-0.6 1.0M496.1 214.1l0.3 0.3M565.0 185.5l0.0 0.0M482.2 170.9l-0.1 1.2M519.5 178.9l0.4 0.1M446.4 43.0l0.0 0.0M449.9 20.6l0.1 1.6M462.1 24.8l-1.1 1.1M423.5 115.1l0.3 0.3M536.2 109.1l-1.5 0.5M504.9 130.5l0.0 1.2M539.4 96.2l-0.6 0.6M430.4 51.4l-0.2 0.3M503.6 104.2l-0.0 0.0M466.7 113.5l-0.0 0.0M485.2 143.8l0.0 0.0M496.9 81.4l0.4 0.7M448.5 180.0l0.1 0.4M512.9 135.1l-0.6 1.0M470.4 68.5l0.0 0.0M531.7 73.8l-0.8 0.9M513.5 211.6l0.0 0.0M546.9 125.4l-0.0 1.2M441.9 24.4l-0.3 0.7M532.3 56.3l1.1 1.1M446.3 115.4l-0.0 0.0M447.7 87.7l-0.2 0.4M526.8 203.1l-0.0 0.0M501.0 72.3l0.0 0.0M548.9 145.0l0.0 0.0M545.1 124.5l0.7 0.3M487.0 113.6l-0.0 0.0M496.9 69.0l0.0 0.0M488.0 164.9l0.3 0.3M496.8 95.5l-0.0 0.0M562.7 207.0l0.2 0.3M515.8 222.3l0.0 0.0M440.7 27.8l0.2 0.4M469.9 73.6l-0.4 0.7M467.1 167.7l0.8 0.9M486.3 211.2l0.3 0.3M422.0 149.7l1.4 0.8M492.3 81.2l0.9 1.3M540.6 156.4l-0.7 1.4M506.1 105.9l1.5 0.6M472.8 169.4l0.0 0.0M452.4 79.4l0.0 0.0M540.5 162.0l-0.7 0.4M470.7 63.4l-0.0 0.0M515.0 88.8l-0.4 0.2M568.7 191.7l1.1 1.2M502.7 181.6l-0.0 0.0M528.1 151.0l-1.0 0.6M507.0 75.9l-0.4 0.1M444.9 71.6l0.8 0.1M515.5 120.4l-1.6 0.3M525.6 198.2l0.4 0.0M557.9 143.6l-0.7 1.0M497.4 86.6l-0.0 0.0M477.5 204.3l0.1 0.4M535.8 190.8l0.0 0.4"/>
<path stroke="#24507a" stroke-width="2.6" d="M442.6 80.8l-0.0 0.4M446.9 136.2l-1.2 0.2M533.6 46.4l-0.3 1.2M453.4 85.6l-1.0 1.2M429.7 179.5l0.0 0.0M428.3 97.7l-0.0 0.0M522.0 38.5l0.5 0.6M469.3 168.8l-0.0 0.0M565.0 182.5l-0.1 0.4M407.0 124.4l0.7 1.4M558.0 95.5l-0.0 0.0M525.9 128.9l-1.0 0.6M491.0 97.5l0.0 0.0M462.2 107.1l0.0 0.0M528.9 68.6l-0.0 0.0M401.2 112.2l-0.0 0.0M484.2 207.4l-0.0 0.0M531.5 188.4l-1.2 0.0M461.5 29.5l-1.0 0.7M562.0 169.5l-0.2 0.8M468.7 113.6l0.4 0.1M561.6 183.9l-0.0 0.0M421.4 150.2l-0.0 0.0M476.7 28.1l0.0 0.0M462.2 121.6l0.0 0.0M397.4 133.4l0.0 0.0M517.3 125.7l0.0 1.2M537.8 219.1l-1.0 0.6M473.0 148.8l0.8 1.4M552.3 178.4l-0.3 0.3M411.4 122.2l0.0 0.4M448.6 91.6l0.5 0.6M506.9 194.5l-0.0 0.0M496.3 65.9l-0.1 0.4M561.7 141.4l-0.3 0.2M493.6 72.2l0.5 0.7M461.9 116.4l0.7 0.3M537.4 121.1l-0.0 0.0M584.4 162.7l0.1 0.4M444.6 175.3l-0.3 1.2M442.7 88.1l0.3 1.6M500.2 82.9l0.0 0.0M414.0 131.1l-0.8 0.3M423.0 98.8l0.0 0.0M455.4 123.9l1.1 1.2M413.9 123.6l0.0 0.0M485.6 80.0l-0.3 1.6M429.0 134.0l-0.8 0.2M510.1 51.3l0.0 0.0M564.4 198.9l-0.8 0.1M421.2 128.9l-0.9 0.8M569.6 192.1l-0.2 0.8M474.2 170.4l-0.0 0.0M480.5 47.9l0.6 0.5M479.7 75.0l-0.1 1.6M425.8 38.4l-0.0 0.0M473.1 104.6l-1.1 0.4M490.3 164.3l0.8 0.1M511.7 26.6l1.2 0.2M493.2 153.3l0.0 0.0M411.7 78.6l0.0 0.0M484.3 114.9l-0.1 0.8M563.8 203.5l0.2 0.8M403.3 134.5l-0.0 0.0M482.1 207.2l-0.0 0.0M465.4 90.5l-0.0 0.0M401.3 108.6l1.2 0.1M459.2 85.5l0.0 0.0M455.0 102.7l0.0 0.0M548.4 108.9l-0.3 0.2M488.9 174.5l-0.8 0.0M565.4 194.2l1.4 0.7M434.0 25.3l0.0 0.0M426.0 113.9l0.1 0.8M503.6 74.7l-0.1 0.4M583.7 136.9l-0.0 0.0M498.0 211.7l0.8 1.4M472.8 76.5l0.9 1.3M495.9 210.9l-0.4 0.7M473.6 166.7l0.3 0.2M482.4 66.3l-1.0 1.3M567.7 179.3l0.2 1.2M503.5 31.9l0.2 1.6M483.9 50.3l-0.6 0.5M493.6 188.8l-0.8 0.2M566.7 148.4l0.0 0.0M531.9 96.4l0.0 0.0M559.2 211.8l-0.4 0.7M463.6 127.8l1.5 0.6M519.7 40.5l-1.6 0.1M542.4 162.0l-0.0 0.0M442.6 133.2l-0.7 1.4M514.4 63.9l1.1 0.4M437.1 50.4l-0.8 0.2M539.4 116.2l-0.0 0.0M548.6 157.3l-0.8 0.0M544.8 81.8l0.1 0.8M573.0 169.3l0.1 0.8M423.3 149.0l-1.3 0.9M464.3 127.0l-1.1 0.5M542.0 58.6l0.0 0.0M562.2 138.0l0.0 0.0M530.0 45.5l-1.3 1.0M406.0 125.0l0.4 0.7M568.7 126.5l-0.3 0.3M553.7 137.6l1.1 0.5M567.0 139.6l1.2 0.2M485.1 38.7l-0.0 0.0M458.7 135.8l0.0 0.0M472.2 83.0l-0.0 0.0M564.8 145.7l0.0 0.0M522.8 97.5l-0.5 1.5M524.5 166.0l0.0 0.0M416.2 73.2l0.0 0.0M450.7 119.1l-1.2 1.1M554.4 144.2l-0.4 0.2M582.5 130.2l0.0 0.0M587.0 171.9l0.0 0.0M432.9 97.8l-0.0 0.0M454.8 92.0l0.0 0.0M569.5 123.3l-0.7 0.5M444.4 77.4l-0.7 0.4M544.2 174.0l1.0 1.3M473.0 75.9l0.4 0.7M572.3 159.5l0.0 0.0M471.8 32.3l0.4 0.1M526.6 123.4l0.0 0.0M467.9 144.5l0.9 0.8M467.3 120.4l-1.6 0.1M437.1 108.0l-0.0 0.0M457.7 16.5l-0.7 0.4M456.7 75.0l0.8 0.1M491.1 116.6l-0.4 0.7M498.9 57.4l0.0 0.0M569.2 206.6l0.0 0.0M507.9 31.8l-1.1 1.1"/>
<path stroke="#2c5e8a" stroke-width="1.8" d="M546.5 199.1l-0.3 0.2M510.7 194.7l-0.0 0.0M468.6 193.1l0.5 1.5M456.6 188.7l0.7 1.4M561.0 91.1l-0.9 0.7M492.6 203.3l-0.0 0.0M476.1 126.5l-0.0 0.0M396.5 134.3l0.0 0.4M465.9 31.0l0.0 0.0M531.2 93.2l0.8 0.1M564.9 131.5l0.0 0.0M591.1 156.4l0.0 0.0M546.3 110.3l-0.0 0.0M469.6 87.8l-0.0 0.0M527.0 77.2l-0.1 0.4M436.4 183.3l0.0 0.0M478.5 189.2l0.1 0.4M480.1 208.4l-1.0 0.7M531.3 224.9l-0.8 0.3M427.4 169.2l0.0 0.0M457.1 55.1l-0.9 0.8M559.3 156.7l-0.4 0.2M481.8 15.9l-0.0 0.0M427.4 177.5l-0.2 0.3M520.9 115.4l0.8 0.1M461.3 99.3l0.0 0.0M570.6 110.1l-0.9 1.3M421.0 123.2l-0.0 0.0M408.9 105.2l0.4 0.1M566.0 167.5l0.0 0.0M502.6 142.2l0.0 0.0M502.7 142.4l0.0 0.0M501.4 153.4l-0.0 0.0M395.8 146.3l-0.0 0.0M591.9 160.7l0.0 0.0M508.0 139.9l0.5 0.7M443.0 89.3l-1.4 0.8M427.0 96.0l-0.0 0.0M566.5 184.9l0.0 0.0M450.0 108.9l0.0 0.0M463.7 142.1l0.1 0.4M419.2 67.4l-0.0 0.0M483.7 13.9l-1.1 0.4M439.1 130.2l-0.0 0.0M456.3 63.4l0.4 0.1M430.4 64.0l-0.0 0.0M476.0 176.0l-0.2 1.2M409.5 127.9l0.0 1.2M568.0 168.3l-1.1 1.1M450.3 172.0l-0.0 0.0M466.5 64.3l-0.0 0.0M454.3 166.7l-0.9 0.7M549.0 98.5l0.0 0.0M494.6 116.5l0.0 0.0M442.0 37.9l-0.0 0.0M534.6 113.1l-1.1 0.4M513.7 24.3l-0.0 0.0M496.2 94.1l1.2 0.1M502.6 116.4l0.6 1.1M490.6 114.6l0.2 0.8M552.8 179.3l0.2 0.8M454.0 88.8l0.0 0.0M431.1 65.9l0.0 0.0M427.2 72.7l-0.0 0.4M417.0 149.2l-0.4 0.7M542.2 139.5l-0.9 1.3M442.2 139.8l-0.8 0.9M419.0 81.5l-0.3 0.7M465.2 113.8l0.0 0.0M432.2 143.3l0.7 0.4M479.6 47.2l0.5 1.1M471.4 185.7l0.5 1.5M478.9 81.6l-0.0 0.4M466.8 202.6l-0.0 0.0M495.5 55.4l-0.1 0.8M578.6 189.6l0.0 0.0M501.4 107.2l-1.2 1.0M536.7 100.6l-1.5 0.6M546.9 143.8l0.7 0.3M521.0 171.8l0.6 1.5M491.0 158.0l0.0 0.0M510.8 77.0l0.2 1.6M475.9 127.2l0.6 1.5M422.5 70.2l-0.0 0.0M499.6 125.0l0.3 0.2M518.3 68.2l-0.0 0.0M414.7 76.5l-0.0 1.2M471.1 57.7l-0.5 0.6M567.1 139.0l-0.7 1.0M525.2 36.8l0.0 0.0M409.7 161.7l0.5 0.6M477.0 62.2l-0.0 0.0M481.0 151.8l0.7 0.4M400.7 151.2l0.0 0.0M488.6 176.0l0.0 0.0M487.5 178.1l-0.0 0.0M519.3 163.1l-0.9 1.3M525.7 209.8l-1.2 0.3M417.5 164.2l-0.6 1.0M510.2 167.6l-0.4 0.2M573.9 184.4l-0.5 1.5M473.8 152.9l0.0 0.0M446.2 145.5l-0.7 1.0M511.2 77.5l1.2 1.1M501.0 47.3l0.0 0.0M475.2 151.0l0.1 0.4M494.1 24.3l0.3 1.2M509.1 60.4l-0.4 1.5"/>
<path stroke="#2c5e8a" stroke-width="2.2" d="M516.9 59.6l0.0 0.0M491.5 208.2l0.0 0.0M507.6 60.3l0.0 0.0M416.5 72.6l0.0 0.0M585.1 156.4l0.0 0.4M449.4 41.0l0.0 0.0M448.1 15.1l-0.6 1.5M464.9 129.2l-0.3 0.2M547.8 154.3l-0.0 0.0M404.9 126.0l-0.7 1.0M535.4 167.6l-0.8 0.2M484.7 74.9l-0.0 0.0M503.4 106.0l-0.0 0.0M550.0 127.0l1.6 0.4M467.5 152.2l-0.0 0.0M448.8 92.4l-0.4 0.7M439.9 112.3l1.1 0.4M474.3 180.7l-0.3 0.3M474.4 125.6l0.0 0.0M428.5 73.4l-0.2 0.4M515.0 213.2l-0.0 0.0M499.3 170.9l0.8 0.1M510.5 195.1l1.4 0.8M574.7 168.5l0.4 0.2M532.1 129.4l1.6 0.3M539.2 137.9l-1.1 0.5M523.4 216.7l0.0 0.0M535.6 132.5l-1.2 0.0M500.0 79.3l-0.0 0.0M514.5 204.7l0.0 0.0M508.5 193.2l0.0 0.0M590.6 162.8l-0.0 0.0M510.9 52.9l-0.5 0.6M474.0 86.1l1.6 0.1M518.0 109.7l0.0 0.0M481.6 117.8l-1.4 0.7M510.0 91.9l0.8 0.0M417.9 157.5l0.4 0.1M563.7 151.1l-0.4 0.0M516.3 223.5l-0.3 0.2M498.5 92.2l-0.0 0.0M481.5 137.9l-0.3 0.2M453.4 169.0l0.8 0.9M473.2 101.5l0.6 1.5M413.9 89.2l1.3 1.0M557.7 92.4l-0.6 1.5M486.3 75.1l-0.0 0.0M470.5 164.4l-0.0 0.0M411.9 127.1l0.0 0.0M456.3 196.3l-0.0 0.0M518.7 42.0l-0.1 0.4M503.4 167.6l0.0 0.0M524.2 217.5l-0.3 0.3M576.3 112.2l-0.2 1.2M520.0 88.0l-1.3 1.0M478.5 24.5l0.3 0.7M584.8 178.3l0.5 1.5M445.7 170.8l-0.0 0.0M568.6 205.8l-0.0 0.0M573.0 202.1l-1.2 0.1M583.1 184.9l0.2 1.2M501.8 148.3l-0.7 0.4M435.1 46.9l0.3 1.6M488.6 161.9l-0.3 0.3M481.3 25.1l0.0 0.0M504.6 65.3l0.0 0.0M532.7 221.1l-0.0 0.0M527.0 189.1l0.0 0.0M518.0 172.9l-0.8 0.1M538.6 163.5l0.0 0.8M435.7 91.7l-0.0 1.2M579.4 167.4l0.0 0.0M530.4 145.3l0.0 0.0M568.2 103.2l0.6 0.5M570.7 138.4l-0.2 0.4M455.7 154.3l0.8 0.0M490.4 208.8l-0.7 0.4M591.7 144.1l0.2 1.6M516.0 68.5l1.5 0.6M498.3 150.8l-1.0 1.3M482.6 15.0l-0.1 0.4M463.2 171.0l0.1 0.4M458.2 121.7l-0.0 0.0M535.4 173.3l-0.0 0.0M416.7 159.5l0.4 0.7M423.3 150.6l-0.6 0.5M583.7 162.8l-1.6 0.3M475.5 132.1l1.3 1.0M558.8 111.4l-0.2 0.8M489.3 72.3l-0.1 0.4M468.8 141.2l-0.0 0.4M572.9 156.2l0.8 0.1M568.3 149.0l-0.1 1.6M513.1 61.9l-0.0 1.2M540.8 168.8l-0.8 0.2M427.2 71.7l0.1 0.8M447.8 141.3l-0.0 0.0M458.6 166.8l0.0 0.0M519.6 108.5l0.9 1.3M415.6 132.5l-1.2 0.1M442.3 180.8l0.0 0.0M527.5 130.2l0.8 0.1M590.7 162.4l0.0 0.0M408.5 118.7l0.1 1.6M405.4 152.5l-0.2 0.3M430.4 139.8l1.2 0.2M412.5 124.6l-1.2 0.1M548.6 75.4l-0.0 0.0M504.7 156.6l0.5 1.5M551.7 121.1l-0.0 0.0M484.1 167.5l0.9 0.8M542.0 145.7l1.2 0.2M489.7 23.4l0.2 0.8M430.1 62.3l-0.0 0.0M482.2 61.4l0.0 0.0M573.5 156.3l-0.3 0.2M507.7 204.0l-0.0 0.0M546.8 155.7l-0.0 0.0M441.7 125.1l-0.4 1.1M494.6 168.5l0.7 0.3M553.2 118.7l-1.4 0.8M481.8 114.1l0.4 0.2"/>
<path stroke="#2c5e8a" stroke-width="2.6" d="M493.0 166.0l0.4 0.2M562.1 202.3l0.0 0.0M459.6 121.3l1.1 1.2M413.1 126.2l-0.8 0.2M537.7 135.4l-0.0 0.0M547.3 175.6l0.4 1.1M579.0 121.1l-0.1 0.4M484.5 136.2l0.0 0.0M409.2 112.5l-0.0 0.0M510.1 94.7l0.3 0.3M557.9 145.3l0.0 0.0M538.1 169.7l-0.5 1.1M448.9 141.3l0.0 0.0M546.7 217.8l0.0 0.0M414.7 147.4l0.8 1.4M513.5 195.8l-0.0 0.0M463.4 15.9l0.0 0.0M495.4 68.3l-0.0 1.6M502.4 47.5l-0.6 0.5M525.0 153.4l1.6 0.0M499.7 59.3l-1.4 0.8M487.3 153.8l0.5 1.5M426.1 48.4l-0.0 0.0M480.7 52.1l0.8 1.4M506.2 178.8l-0.0 0.0M420.4 129.2l-0.0 0.0M524.0 67.4l1.4 0.8M565.8 97.2l0.5 1.5M513.2 178.1l0.0 0.0M572.3 109.3l-0.0 0.0M494.7 137.3l-0.4 0.7M454.1 15.9l-0.6 1.0M483.3 160.1l-0.0 1.2M439.0 114.7l0.6 0.5M423.8 101.4l0.0 0.0M456.7 176.3l-1.4 0.7M489.8 44.6l1.3 1.0M583.7 145.7l0.0 0.0M518.4 60.7l0.4 0.0M483.0 60.3l0.0 0.4M464.5 24.8l0.0 0.0M422.7 108.5l0.0 0.0M443.0 61.1l0.7 1.0M536.0 80.2l-0.3 1.6M564.9 139.0l-0.8 0.2M452.1 27.9l0.0 1.6M502.3 187.8l-0.0 0.0M521.2 168.3l-0.7 0.4M495.6 194.3l1.1 1.2M509.6 42.7l0.8 0.9M431.9 44.7l0.1 1.2M532.7 126.0l-0.0 0.0M462.6 65.6l-0.8 0.2M431.0 106.2l0.2 0.8M559.4 186.3l0.0 0.0M560.4 88.0l0.0 0.0M523.2 40.5l0.9 1.3M550.2 216.1l-0.0 0.0M502.1 192.9l0.1 0.4M553.8 161.3l0.0 0.0M460.7 198.5l-0.3 0.3M551.6 195.1l0.0 0.0M551.8 102.1l0.0 0.0M493.8 25.0l0.4 0.1M571.5 203.9l0.1 0.4M492.0 48.1l-0.8 0.9M547.1 67.8l0.4 1.1M507.0 103.6l0.8 0.1M511.3 141.4l-0.1 0.8M403.4 130.6l0.0 0.0M524.3 156.9l0.6 1.0M521.8 157.2l-0.0 0.0M455.9 96.7l-0.0 0.0M572.8 117.6l-1.5 0.6M502.1 49.6l-0.0 0.0M511.3 215.4l0.0 0.0M502.7 59.9l-0.8 0.0M455.4 108.3l0.0 0.0M563.9 118.2l-0.7 1.0M506.5 39.4l-0.0 0.0M540.5 127.1l-0.4 0.2M474.4 39.9l-0.3 1.2M492.5 98.0l0.8 0.2M531.8 137.5l-0.0 0.0M478.1 27.5l1.2 0.2M539.1 164.7l-0.2 0.4M458.0 55.1l-0.0 0.0M446.9 77.0l-0.2 1.6M565.7 126.9l0.0 0.4M432.5 40.2l-0.4 0.2M584.1 186.8l0.0 0.0M574.5 198.7l0.0 0.0M533.8 82.1l0.0 0.0M527.7 121.7l-0.0 0.0M548.9 181.3l-0.4 0.7M554.9 92.9l-0.4 1.1M545.5 221.1l-0.2 1.2M501.7 192.0l0.0 0.0M544.6 76.4l-0.7 0.3M541.4 221.9l-0.5 1.5M436.3 23.4l-0.3 0.7M459.8 14.0l0.9 0.8M454.3 57.0l-0.0 0.0M476.6 151.3l0.4 0.1M519.1 188.4l0.6 0.6M525.7 47.2l0.7 0.4M422.0 57.5l0.6 1.5M524.1 37.2l-0.0 0.0M448.5 182.6l0.7 0.3M484.3 25.4l-0.0 0.0M413.8 162.9l-0.7 0.3M487.0 29.6l0.6 0.6M420.8 134.1l-0.1 0.4M437.5 25.3l0.7 0.5M442.4 48.8l-0.0 0.0M496.2 167.6l0.0 0.0M411.1 92.9l-0.3 0.8M565.5 104.9l1.2 0.1M569.8 135.8l-0.2 0.8M555.5 161.9l-0.7 0.4M521.5 71.0l0.4 1.6M405.2 122.6l0.1 1.6M446.3 31.6l0.0 0.0M449.0 167.3l0.4 0.0M546.6 79.0l-0.6 1.5M421.1 69.4l-0.0 0.0M472.7 83.2l-0.0 0.0"/>
<path stroke="#346c9a" stroke-width="1.8" d="M522.2 31.9l-0.0 0.0M563.3 182.1l-0.4 0.7M430.0 96.1l-0.0 0.8M544.7 72.2l0.5 0.6M567.6 164.7l-1.5 0.6M499.8 13.0l-0.3 0.2M536.4 80.1l0.7 0.3M524.7 134.5l-0.9 1.3M446.0 190.5l-1.0 0.6M469.1 197.1l-1.0 1.3M534.9 57.3l0.0 0.0M582.8 138.9l-1.1 0.5M436.8 52.5l0.5 0.6M507.6 109.7l-0.7 0.3M517.2 93.8l-0.0 0.0M504.0 213.5l-0.1 1.6M526.4 219.7l-0.4 0.7M481.4 191.8l-0.9 1.3M512.7 223.0l-0.0 0.0M488.2 147.6l1.1 1.2M423.7 47.6l1.2 0.2M527.8 214.7l0.0 0.0M483.8 206.9l-0.2 0.4M446.1 164.3l-0.0 0.0M505.7 23.1l1.1 1.1M517.9 38.1l-0.8 0.2M491.5 190.0l-1.6 0.2M550.4 189.2l0.0 0.0M397.7 127.7l0.0 0.0M517.2 89.0l-0.4 1.5M460.1 182.6l-0.4 1.1M499.2 77.7l0.0 0.0M472.8 104.8l0.4 0.1M522.8 56.8l0.0 0.0M503.0 45.7l-0.0 0.0M472.5 34.7l-0.8 0.2M552.8 181.3l0.2 0.3M550.6 152.8l-0.3 0.2M543.6 160.2l0.8 0.9M507.2 161.2l-0.0 0.0M503.9 33.5l-0.4 0.1M466.5 33.6l-0.1 1.2M501.3 67.5l-1.6 0.4M495.7 48.3l0.0 0.0M429.8 50.0l1.3 1.0M551.9 183.1l0.0 0.0M472.5 190.7l0.0 1.2M448.6 75.6l0.6 1.0M398.6 131.9l-0.8 0.9M461.5 191.3l0.2 1.2M441.5 57.1l-1.2 1.1M569.0 192.2l0.0 0.0M450.2 74.6l-0.5 1.1M503.0 217.1l0.0 0.0M570.8 146.7l-0.4 0.1M572.6 170.0l0.4 0.2M476.7 172.9l0.3 0.3M558.4 199.2l0.3 0.3M466.5 69.4l0.1 1.2M407.2 126.4l0.5 1.1M584.2 135.5l0.4 0.2M501.2 219.0l-0.0 0.0M478.7 67.3l-1.5 0.5M439.3 107.7l-0.0 0.0M520.6 185.1l0.0 0.0M451.3 90.2l-0.0 0.8M430.3 37.2l-0.2 0.3M547.5 69.9l-0.1 0.4M422.8 149.3l-0.4 0.1M582.7 180.6l-0.4 0.1M430.7 136.1l-0.3 0.3M429.7 175.7l0.9 0.8M504.8 144.8l1.6 0.3M547.5 200.2l0.2 0.3M451.6 31.7l0.2 0.3M574.7 146.9l0.5 0.6M482.5 94.8l-0.4 0.7M431.8 68.5l-1.2 1.1M502.5 39.1l-0.0 0.0M401.9 115.6l0.5 0.6M542.7 219.9l-0.0 0.0M479.2 192.0l-0.2 1.2M570.4 199.3l-1.4 0.8M466.8 25.9l-0.7 1.5M511.4 22.4l0.6 1.1M498.0 15.5l-0.2 0.4M471.6 38.2l1.1 0.4M496.3 119.7l-0.0 0.0M504.8 205.2l-1.2 0.2M484.8 145.7l-0.1 0.8M571.6 137.8l0.2 1.6M472.6 151.9l0.2 0.4M539.3 173.9l1.2 0.0M443.1 126.7l-0.1 0.4M481.1 210.3l0.1 0.4M455.5 115.4l-0.0 0.0M490.5 157.8l-0.0 0.0M496.7 188.7l0.4 0.0M573.8 108.6l-0.0 0.0M517.1 65.4l0.0 0.0M490.6 178.0l0.7 1.5M511.4 209.0l-0.0 0.0M542.0 155.6l-1.6 0.2M564.0 132.3l0.0 0.0M537.1 213.3l0.7 0.5M451.7 111.8l0.8 0.3M479.3 208.1l-0.2 0.3M548.4 185.6l1.0 1.2M413.5 135.7l0.0 0.0M567.8 108.1l0.2 0.3M459.3 195.7l0.0 0.0M485.0 162.4l0.0 0.0M444.2 46.8l-0.0 0.0M527.0 96.6l0.7 0.3M486.0 52.2l-1.5 0.5M464.7 108.5l-0.4 0.1M568.8 143.0l-0.0 0.0M426.1 109.0l1.3 0.9M572.2 161.9l-0.0 0.0M461.5 18.1l-0.0 0.0M510.6 44.5l0.9 0.8M498.3 29.8l-1.1 0.4M537.4 205.3l-0.6 1.0M574.9 114.5l-1.6 0.3M454.3 163.3l0.7 1.4M485.9 136.8l0.7 0.3M561.5 143.2l0.0 0.0"/>
<path stroke="#346c9a" stroke-width="2.2" d="M525.2 144.3l-0.4 0.0M471.0 58.4l-0.0 0.0M406.9 102.4l0.0 0.0M459.2 190.3l-1.0 0.7M482.9 24.5l0.5 0.7M476.7 135.0l-0.4 0.1M479.3 51.9l-0.0 0.0M512.5 221.9l-1.2 0.0M434.8 84.9l-1.2 0.1M489.7 15.8l0.0 0.0M481.4 95.9l0.4 1.1M545.4 217.7l0.3 0.7M473.6 67.9l-0.9 0.8M490.4 143.7l-0.0 0.0M452.9 53.6l1.0 1.2M528.5 143.1l-1.4 0.8M502.4 46.5l0.4 0.7M401.6 109.5l-0.1 1.2M439.6 84.2l0.7 0.3M541.3 86.2l-0.3 0.2M473.2 109.5l0.0 0.0M471.5 76.1l0.3 0.7M533.1 219.9l0.1 0.8M465.0 55.8l0.3 0.3M483.1 19.6l-0.2 0.3M579.9 178.5l-0.4 0.2M558.8 99.6l-1.2 0.2M438.9 161.9l-0.0 0.0M409.9 135.3l1.4 0.9M505.7 219.6l-1.0 0.7M528.5 191.6l0.2 0.3M449.9 84.4l-0.0 0.0M543.3 97.4l-0.7 0.4M447.3 86.1l0.0 0.0M462.3 106.9l-0.0 0.0M556.2 171.9l1.1 0.5M496.4 58.3l-0.4 0.1M446.1 179.2l1.4 0.8M455.5 181.0l1.1 0.4M447.6 115.3l0.6 0.5M534.2 101.5l-1.1 1.2M534.2 220.2l-0.3 0.2M431.2 129.1l-0.7 1.0M426.7 80.0l-0.8 0.2M477.0 115.1l-0.5 1.1M447.0 87.2l0.0 0.0M412.1 166.3l-0.4 0.2M537.5 168.7l0.0 0.0M458.4 131.0l1.2 0.2M442.5 59.1l-0.0 0.0M553.9 142.4l0.0 0.0M576.4 120.5l0.8 1.4M577.6 125.0l-0.3 0.2M530.7 47.2l-0.7 0.4M501.0 31.0l0.4 0.2M560.6 112.3l-0.5 1.5M523.1 74.8l0.0 0.0M451.2 114.8l0.2 0.3M447.8 85.2l-0.0 0.0M474.0 18.7l-0.0 0.0M422.3 106.0l0.3 1.6M543.7 101.5l-1.1 0.6M520.0 217.5l-0.2 0.3M507.1 217.4l0.8 0.0M441.1 74.0l-0.4 0.1M453.1 172.6l0.6 0.6M460.5 61.7l-0.7 0.4M545.9 207.0l-0.4 1.5M517.7 110.7l0.0 0.0M510.0 50.7l0.9 0.8M552.9 217.1l1.0 1.3M538.7 154.4l0.0 0.0M539.0 73.6l0.4 0.1M439.6 53.7l-1.0 0.7M520.0 204.8l-0.0 0.0M553.8 138.3l-0.0 0.0M477.3 194.4l0.8 0.2M454.3 92.3l1.1 0.4M436.5 85.3l-0.0 0.0M545.5 97.7l0.9 1.3M451.4 178.6l0.5 0.6M415.9 131.0l-1.0 0.7M446.7 131.3l0.0 0.0M580.1 194.5l0.4 0.7M568.2 161.7l-0.0 0.0M445.4 133.8l-0.0 0.0M473.8 166.5l0.0 0.0M525.9 204.7l1.3 0.9M548.1 119.1l-0.2 0.8M490.3 22.6l0.4 1.6M524.8 49.1l1.0 1.2M457.0 189.8l-0.8 0.1M528.4 117.8l-1.3 0.9M542.5 103.4l0.4 0.1M505.4 110.4l-0.5 1.5M432.5 179.6l-0.2 0.3M529.5 68.4l0.0 0.0M474.8 45.5l0.0 0.0M493.4 29.4l1.1 1.2M442.5 123.0l1.5 0.4M456.5 97.4l-0.8 0.2M545.7 87.6l0.0 0.0M527.9 213.2l-0.0 0.0M545.8 146.6l-0.1 0.4M479.4 31.7l-0.0 0.0M524.2 214.5l-0.0 0.0M431.8 126.9l-0.0 0.0M464.1 54.3l-1.5 0.6M573.7 133.4l0.0 0.0M447.0 78.6l-0.2 0.8M489.7 21.7l1.0 1.3M417.7 87.3l0.3 0.3M411.5 132.4l0.0 0.0M571.1 201.7l-1.2 0.1M447.8 169.6l0.3 0.3M522.1 59.3l0.0 0.0M465.3 71.4l-0.5 1.1M514.4 110.0l-0.0 0.0M432.5 70.7l-0.4 1.1M487.7 118.1l0.7 1.0M533.9 130.9l0.0 0.0M513.3 223.6l0.0 0.0M482.0 96.4l0.0 0.0M454.1 95.2l-1.0 0.6M574.4 115.6l0.4 0.2M530.2 75.5l0.0 0.0M553.1 117.5l-0.0 1.6M549.1 123.4l-1.4 0.8M498.7 109.0l-1.5 0.4"/>
<path stroke="#346c9a" stroke-width="2.6" d="M580.6 170.8l-1.1 0.6M497.1 53.0l-1.0 0.7M507.5 163.7l-0.1 0.4M518.1 73.0l1.3 0.9M402.4 149.9l0.0 0.0M475.7 65.0l0.0 0.0M445.3 22.3l0.7 0.4M520.3 175.1l-0.8 0.0M412.7 107.6l0.3 0.7M494.9 54.5l-0.9 0.8M486.6 114.5l-0.4 0.0M445.8 117.6l0.0 0.0M426.9 126.6l-0.0 0.0M551.8 126.8l-0.3 0.7M534.0 190.3l0.8 0.9M525.6 56.1l0.4 1.1M570.9 139.7l-0.1 0.4M455.0 13.8l-0.0 0.0M465.4 54.0l0.4 0.1M558.2 131.9l-0.0 0.0M543.6 199.5l-0.1 0.4M429.1 138.1l-0.0 0.0M444.6 154.0l-0.2 0.8M541.0 77.6l0.3 0.3M462.5 90.9l-0.1 1.6M487.9 95.0l-0.9 0.8M486.3 172.4l0.0 0.0M581.8 185.0l-0.7 0.4M473.1 124.0l-0.8 0.9M502.9 175.7l0.6 1.5M420.2 57.3l0.0 0.0M439.1 86.1l0.2 0.4M486.5 27.9l1.1 0.4M446.9 67.2l0.7 1.5M459.1 26.0l-0.0 0.0M403.1 153.1l-0.0 0.0M506.4 127.2l-0.7 0.9M541.5 145.5l-0.3 0.3M560.4 170.8l1.1 1.2M489.2 30.2l0.0 0.0M504.9 17.0l-0.0 0.0M420.3 78.4l-0.3 1.2M460.0 171.1l0.2 0.3M506.4 221.6l0.0 0.0M461.1 176.0l0.4 0.1M498.0 119.3l-0.0 0.0M465.0 114.4l-1.2 0.1M439.5 122.4l-0.4 1.5M552.1 141.5l1.5 0.6M570.8 144.8l0.4 0.7M468.2 200.2l0.0 0.0M555.8 138.2l0.3 0.3M527.7 102.6l0.3 0.2M547.8 111.7l0.1 0.4M535.1 121.6l-1.3 1.0M417.7 92.7l-0.6 0.5M474.9 173.5l-0.7 0.4M555.4 105.2l0.7 1.0M409.3 112.3l0.0 0.0M525.1 203.7l0.8 0.1M557.4 81.9l0.0 0.0M463.2 53.5l0.2 0.3M444.9 54.9l0.0 0.0M459.9 94.5l0.0 0.0M449.9 22.4l0.0 0.0M429.0 69.7l0.0 0.0M526.8 111.8l-0.8 0.0M460.0 107.5l0.3 0.2M438.2 184.1l0.0 0.8M537.3 91.9l-0.0 1.2M422.0 107.8l0.3 0.7M508.1 34.1l-0.0 0.0M454.1 169.8l-0.8 0.9M447.6 76.2l0.4 0.1M497.4 153.0l1.5 0.5M499.2 62.1l-1.2 0.2M558.8 159.2l-0.0 0.0M478.0 78.3l0.7 0.4M458.5 53.5l0.4 0.2M516.2 88.5l0.0 0.0M426.1 147.5l-0.4 0.0M496.4 202.6l-0.8 1.4M535.2 97.0l-0.0 0.0M495.5 29.0l-1.3 0.9M566.4 162.4l-1.4 0.7M521.2 170.3l-0.0 0.0M580.3 183.6l-0.0 0.0M583.7 166.9l0.0 0.0M525.6 77.6l-0.0 0.0M553.0 90.4l-0.0 0.0M536.4 60.1l0.8 0.0M505.2 159.7l-0.5 1.5M406.5 139.2l-0.1 0.4M444.9 158.8l0.2 1.2M439.2 48.3l-1.4 0.8M543.5 105.2l-0.0 0.0M446.9 55.4l1.1 0.5M539.2 60.5l-0.4 0.7M425.9 71.5l0.0 0.0M516.6 66.8l-0.0 0.0M499.8 77.9l-0.5 0.7M522.6 122.8l1.4 0.8M481.7 109.4l-1.2 1.1M515.1 95.6l-1.4 0.7M449.2 116.8l-1.5 0.4M420.7 157.3l-1.1 0.5M414.8 144.8l0.5 0.7M426.0 139.2l0.0 0.0M579.4 126.1l-0.0 0.0M454.2 111.2l1.2 0.0M451.5 154.0l1.5 0.6M419.0 147.3l-1.1 0.5M522.2 121.6l0.4 0.1M537.2 165.7l-1.6 0.3M411.2 109.1l-0.4 0.1M432.8 161.9l0.0 0.0M573.3 123.3l-0.0 0.0"/>
<path stroke="#3f7aa8" stroke-width="1.8" d="M482.6 14.5l-0.0 0.0M464.0 109.7l0.5 0.7M492.6 50.9l0.5 0.6M559.1 171.7l-0.7 1.5M519.0 32.1l-0.0 0.0M473.5 204.0l0.4 0.1M484.1 195.2l1.2 0.3M516.3 60.2l0.3 0.2M489.8 45.2l-0.0 0.0M492.0 165.3l0.7 1.4M506.0 68.7l0.9 0.7M535.2 74.7l-0.0 0.0M455.6 104.0l-0.0 0.0M455.5 30.4l-0.0 0.4M466.1 59.2l-0.5 0.6M466.9 202.2l0.2 0.3M470.7 97.2l-0.0 0.0M528.1 132.3l-0.0 0.0M527.4 202.5l-1.2 0.3M434.7 72.9l-0.7 0.4M535.7 106.0l-0.8 0.3M506.2 17.7l-1.2 0.3M447.4 132.9l-0.0 0.0M463.1 173.3l-0.7 1.0M449.7 191.5l-0.4 1.1M466.3 53.8l-0.8 0.2M448.8 24.5l-1.0 0.7M402.1 126.0l1.1 1.2M453.3 126.4l0.4 0.7M568.3 151.8l0.7 0.9M519.7 149.0l0.9 1.4M529.7 92.0l0.0 0.0M493.1 182.0l0.0 0.4M491.4 184.8l1.1 0.4M506.5 163.6l-0.1 0.4M524.8 181.6l0.2 0.3M508.7 83.5l0.7 0.4M576.4 172.0l0.4 1.5M543.2 62.1l-0.6 0.6M452.1 152.7l0.4 0.1M461.2 69.7l1.2 0.0M418.0 134.6l-0.0 0.0M525.3 117.5l-1.3 0.9M495.2 84.7l-0.0 1.2M524.8 221.7l-1.6 0.4M427.5 115.6l-0.0 0.0M560.6 94.2l0.4 0.2M512.1 74.4l-0.0 0.0M431.4 178.1l-0.4 0.1M593.7 160.6l-0.6 1.0M442.2 155.4l0.0 0.4M477.1 56.9l1.0 0.6M491.1 85.8l-0.8 0.0M530.5 135.2l-0.4 0.1M466.1 29.4l0.0 0.0M471.2 35.4l-1.2 1.1M564.5 120.8l0.8 0.3M550.7 99.5l-0.0 0.0M413.7 80.2l0.0 0.0M441.0 89.2l0.0 0.0M509.2 71.0l-0.8 1.4M542.3 193.3l-0.8 0.1M550.7 124.0l-0.9 0.8M464.4 99.8l0.7 1.0M524.4 74.6l0.2 0.4M508.8 206.7l-0.0 0.0M430.0 37.6l0.1 1.6M468.2 72.4l-0.1 1.6M443.7 53.8l1.2 0.3M457.8 16.8l-0.4 0.1M563.0 125.3l-0.3 0.3M522.4 86.2l0.4 0.0M535.7 165.7l0.4 0.1M493.9 216.8l0.0 0.0M502.1 116.1l0.7 0.5M399.1 145.3l-0.8 0.2M534.2 132.1l1.5 0.6M490.5 27.8l-0.4 1.5M507.6 99.5l-0.1 0.4M517.9 28.8l-1.2 0.1M503.4 165.5l-0.6 0.5M497.3 113.1l-1.2 1.0M435.0 109.3l0.7 1.5M555.1 136.6l-0.1 0.8M445.6 64.5l0.6 1.5M469.7 31.6l0.0 0.0M426.6 148.4l-1.2 0.2M583.9 145.4l-0.3 0.3M577.4 161.5l0.3 0.2M479.5 182.3l0.4 0.1M496.1 139.3l-0.2 0.4M540.5 105.8l-0.0 0.0M475.7 172.7l-0.1 0.8M515.8 110.9l0.0 0.0M423.7 105.4l-1.6 0.1M482.6 110.4l-0.3 0.3M500.4 141.0l0.4 1.1M431.0 66.7l-0.0 0.0M420.5 56.5l0.3 0.3M571.6 137.5l0.9 0.7M440.4 87.7l-0.3 0.3M476.6 197.9l0.7 0.4M492.4 158.7l0.1 1.6M481.9 98.6l0.4 0.2M554.2 139.0l-0.6 1.0M449.9 118.4l-0.5 0.7M494.3 215.6l-0.7 0.3M429.6 91.7l0.2 0.8M434.5 66.1l0.6 0.5M453.8 116.8l0.7 0.4M507.8 18.2l-0.4 1.6M502.9 218.4l0.0 0.0M562.1 141.9l-1.1 1.2M506.1 194.8l-0.0 1.2M556.6 116.2l-0.2 1.6M480.3 109.0l0.0 0.0M510.4 204.7l0.0 0.0M471.2 30.8l0.3 0.2M450.1 148.1l-0.3 0.3M413.9 81.3l-0.0 0.0M567.4 131.1l1.0 0.7M450.3 129.5l-0.0 0.0M446.7 68.8l0.1 0.4M506.9 76.7l0.8 0.1M563.7 147.2l-0.7 0.4M515.8 158.9l-0.9 1.3"/>
<path stroke="#3f7aa8" stroke-width="2.2" d="M479.1 103.4l-0.0 0.0M519.0 186.2l0.0 0.0M540.8 181.3l-0.0 0.0M556.6 202.8l1.4 0.7M459.6 185.9l-0.4 1.1M530.6 43.8l1.2 0.2M423.4 97.0l0.5 1.1M518.6 216.5l-1.1 0.4M530.0 219.1l1.2 0.3M479.3 56.3l-0.7 0.3M502.9 178.2l-0.4 1.1M415.9 161.0l0.3 0.3M429.9 31.4l-0.3 0.3M470.6 61.7l0.4 0.0M436.6 158.5l0.0 0.0M523.4 119.8l-0.1 1.2M514.7 44.3l0.0 0.0M447.7 181.7l0.0 0.0M461.1 179.9l1.1 0.5M549.6 78.7l0.8 0.0M498.4 210.4l-1.6 0.2M428.3 134.1l-0.0 0.0M578.0 190.6l0.0 0.0M401.7 133.2l0.0 0.0M490.1 112.5l-0.1 0.4M486.3 86.6l1.1 0.6M453.9 94.2l0.0 0.0M541.0 212.0l1.5 0.4M532.2 99.2l-0.5 1.1M513.2 205.4l1.0 1.3M407.3 123.8l-0.8 0.2M516.6 213.7l0.1 0.8M435.9 90.0l-1.1 1.1M543.0 100.1l0.0 0.0M402.1 145.8l0.7 0.4M456.3 177.5l0.0 0.0M523.2 218.8l0.0 0.0M553.0 134.0l-0.0 0.0M548.9 102.2l0.0 0.0M569.9 103.0l-0.0 0.0M521.0 115.0l-0.9 0.8M492.6 86.3l0.4 0.7M503.7 209.8l-0.4 1.5M585.2 163.2l-0.4 0.7M445.9 89.0l-0.7 0.5M499.2 194.2l-0.0 0.0M585.3 140.9l-0.6 0.6M511.1 212.1l0.1 1.2M506.5 139.0l0.4 0.1M534.5 188.9l0.3 0.2M439.8 181.9l0.3 0.2M464.8 54.8l1.2 0.2M476.4 174.0l0.0 0.0M538.4 154.7l-0.7 0.3M497.3 187.7l1.5 0.6M545.6 69.7l-0.4 0.1M575.8 122.9l1.0 1.2M570.3 166.4l0.0 0.0M542.1 87.0l-0.0 0.0M585.5 169.7l-0.4 0.7M443.2 139.5l-0.0 0.0M528.1 210.6l-0.0 0.0M447.4 43.3l1.2 0.1M489.0 214.7l-0.0 0.0M545.3 68.0l-0.1 0.8M417.1 129.5l1.2 0.2M483.6 13.4l-0.0 0.0M586.0 166.8l-0.7 0.5M551.6 218.7l0.2 1.6M516.8 34.8l0.7 0.3M568.4 205.8l-0.8 0.2M568.0 151.4l1.5 0.6M441.4 128.3l-0.0 0.0M514.5 29.4l0.8 0.9M589.0 163.3l-1.1 1.2M469.0 170.3l-0.2 0.3M476.4 48.8l-0.5 0.6M562.5 115.9l0.0 0.0M477.9 165.9l-0.0 0.0M412.8 120.8l-0.2 0.8M508.2 81.4l-0.2 1.2M560.6 205.1l0.3 0.3M571.8 134.3l-0.6 1.5M543.3 83.1l-0.6 1.0M521.6 35.8l1.2 1.1M497.9 80.8l0.2 0.8M470.8 65.9l1.2 1.0M468.9 118.4l-0.0 0.0M549.6 147.1l-0.4 0.1M471.9 120.1l-0.0 0.0M530.4 192.9l-0.5 0.6M583.3 149.4l0.2 0.4M567.9 161.7l1.1 0.4M529.0 80.9l-0.2 0.3M413.7 151.9l0.0 0.0M418.3 127.6l0.0 0.0M526.5 172.3l-0.5 1.5M435.7 43.0l0.0 0.0M487.1 187.8l-0.4 0.0M422.2 108.2l0.0 0.0M421.0 133.9l-1.5 0.6M471.1 125.5l-0.0 0.0M534.1 213.0l0.0 0.0M492.0 20.1l0.0 0.0M450.1 170.1l0.6 1.5M445.3 106.7l0.0 0.0M508.0 189.7l-0.4 0.7M470.4 102.1l0.5 0.6M433.6 45.2l-0.7 0.4M445.2 52.8l-0.8 0.1M462.1 27.0l-0.4 0.1M461.0 17.3l-0.3 0.3M570.9 165.0l0.3 0.2M527.9 224.7l-0.2 0.3M414.7 79.2l-0.6 0.5M535.9 144.2l1.0 0.7M424.7 114.6l-1.3 0.9M480.1 41.4l0.1 0.4M497.6 172.9l1.2 0.3M580.4 158.7l0.0 0.0M397.1 140.1l0.5 0.6M451.4 132.0l0.0 0.0M571.7 127.4l-0.2 0.8"/>
<path stroke="#3f7aa8" stroke-width="2.6" d="M544.1 193.0l0.0 0.0M497.4 137.6l-0.6 0.6M442.5 100.3l0.6 1.0M396.9 149.0l0.2 0.3M461.2 39.0l-0.2 0.3M453.8 191.2l-0.0 0.0M553.4 185.2l-1.0 0.7M523.0 71.1l0.0 0.0M537.6 155.1l0.7 0.4M487.7 86.7l-0.4 0.7M559.7 139.5l0.6 1.0M527.0 182.3l0.3 0.3M533.6 105.6l0.0 0.0M466.6 176.6l-0.2 0.3M479.8 12.6l0.7 1.4M582.0 164.0l-0.8 0.9M535.7 139.2l0.7 0.9M454.9 63.9l-0.5 0.6M480.8 184.6l0.0 0.0M476.6 43.0l-0.3 1.2M417.2 81.0l-0.8 0.2M498.4 94.2l0.4 0.0M511.4 23.8l0.5 0.6M503.9 186.4l-0.0 0.0M418.2 105.5l0.7 0.4M552.1 190.1l-0.2 1.6M445.4 44.0l0.0 0.0M431.0 123.6l-0.7 0.3M464.7 127.4l0.3 0.3M506.1 194.0l-0.4 1.6M498.5 167.9l-0.4 0.0M396.6 137.5l-0.0 0.8M427.2 75.8l1.5 0.5M501.0 49.3l-1.3 0.9M556.8 168.4l-0.0 0.0M460.4 138.1l0.7 1.4M562.5 121.8l-0.1 1.6M461.2 51.5l-0.3 0.3M453.1 148.0l-0.6 0.6M397.5 137.1l-1.2 0.2M502.5 42.5l-1.0 0.6M493.1 119.4l-0.2 0.3M499.6 111.3l-0.0 0.0M563.0 204.4l-1.1 0.4M521.9 36.9l0.8 0.1M569.0 142.3l0.8 0.9M503.4 163.1l-1.0 1.3M532.7 168.7l-0.2 0.3M422.4 172.6l-0.0 0.0M527.3 76.7l0.0 0.0M559.2 100.0l0.0 0.0M552.0 185.3l-0.4 0.7M431.0 160.5l1.1 0.5M414.5 83.0l-0.4 0.7M550.6 99.9l-0.7 0.4M442.6 85.8l0.0 0.0M473.4 35.1l-0.3 0.2M547.9 114.6l-0.3 0.2M476.2 52.2l-0.0 0.0M404.4 103.0l0.0 0.0M488.6 68.9l-0.7 0.4M456.9 27.6l0.8 0.9M433.2 95.9l-1.1 0.4M535.5 145.4l0.4 1.1M406.9 117.7l-0.0 0.0M556.1 206.7l-0.0 0.0M531.3 189.6l0.2 0.4M479.4 60.3l1.2 0.2M493.0 113.8l-0.4 0.0M558.3 96.0l-0.0 0.0M542.9 213.3l-0.0 0.0M543.5 74.2l0.2 0.3M446.4 34.6l-0.0 0.8M401.2 130.4l0.3 0.3M492.2 72.7l-0.1 0.8M531.4 57.5l-0.3 0.3M473.7 121.9l-0.9 0.8M590.9 164.8l-0.7 0.4M444.2 54.4l0.1 0.4M538.5 189.1l0.5 1.1M501.5 202.8l0.3 1.2M508.2 94.1l-0.0 0.0M449.4 144.7l0.0 0.0M524.2 191.0l-0.0 0.0M406.8 146.2l-0.2 0.3M484.5 33.8l0.0 0.0M560.6 86.4l0.0 0.0M473.4 86.1l0.9 0.8M441.9 33.4l1.3 0.9M455.4 129.0l-1.1 0.3M478.4 83.7l-0.9 0.8M415.0 151.0l-0.3 0.3M581.5 128.0l0.4 0.1M460.5 120.5l0.4 1.6M456.9 196.1l-0.6 1.0M472.6 180.4l0.6 1.5M542.4 89.2l1.6 0.3M551.4 145.2l-0.7 1.5M576.0 168.4l-1.0 0.6M481.5 23.1l-0.0 0.0M552.7 130.6l1.0 1.3M500.8 141.2l0.3 0.2M498.7 97.6l-0.5 0.6M496.5 152.4l0.3 0.3M522.5 114.9l-0.5 1.1M567.3 197.3l-1.1 0.4M505.3 177.5l-0.0 0.0M509.8 43.9l1.1 0.4M521.5 113.2l0.8 0.2M513.8 76.3l-0.0 0.0M535.5 125.6l-0.6 1.0M432.8 128.0l0.7 1.0M514.9 199.3l-0.0 0.0"/>
<path stroke="#4a88b4" stroke-width="1.8" d="M582.8 185.3l0.0 0.0M574.4 200.2l-0.9 0.8M450.7 42.7l0.0 0.0M497.9 114.8l0.0 0.0M527.4 195.0l-0.1 0.4M482.6 77.3l1.2 1.0M515.9 56.0l0.0 0.0M536.0 119.6l-0.1 1.2M468.1 21.5l-0.5 1.5M458.6 30.1l0.6 1.5M545.4 194.9l-0.6 0.5M578.1 181.4l0.7 1.0M476.3 128.0l-0.0 0.0M497.1 76.4l0.2 0.4M484.2 152.7l0.3 0.2M460.7 183.9l1.1 1.2M441.2 68.5l0.3 1.2M522.8 205.5l-0.7 1.0M401.8 111.9l0.3 0.3M446.6 21.5l-1.1 0.4M454.3 169.0l-0.3 0.3M531.5 87.4l-0.0 0.0M546.0 210.9l-0.8 1.4M539.5 222.8l1.2 0.3M519.7 177.0l1.0 0.7M492.0 101.7l-0.2 0.8M463.0 198.8l-0.8 0.2M555.4 163.4l-1.0 0.7M538.5 115.6l0.0 0.0M402.4 132.0l-1.0 1.3M483.7 19.6l0.4 0.1M449.2 108.8l-0.6 1.5M549.1 209.7l-0.7 0.3M496.0 143.7l-0.0 1.2M589.0 174.1l-0.0 0.8M479.6 22.5l0.5 0.6M433.3 132.9l0.0 0.0M477.2 102.4l1.4 0.8M468.3 115.8l-0.0 0.0M522.4 107.5l-0.0 0.0M568.4 100.0l0.2 1.2M574.8 163.7l1.2 0.1M545.1 166.9l-0.0 0.4M407.9 120.1l-0.9 1.3M503.5 208.3l-0.4 1.5M523.2 43.8l0.7 0.4M468.1 73.7l-0.0 0.0M522.5 55.3l-1.6 0.2M472.7 81.5l-0.1 0.4M516.5 192.3l1.5 0.6M520.9 186.2l0.0 0.0M526.0 198.7l0.8 0.1M451.2 120.0l-1.6 0.2M503.9 221.0l-1.6 0.1M482.5 48.4l-0.0 0.0M546.5 182.4l0.1 0.8M477.4 149.2l-0.0 0.0M565.4 122.0l0.0 0.0M412.9 164.4l-0.3 1.2M515.6 72.4l1.2 0.3M497.7 110.3l0.0 0.0M445.9 91.0l0.4 0.1M491.6 70.7l0.2 0.4M585.6 163.1l-0.4 0.1M524.7 150.7l0.3 0.3M582.7 191.3l-0.6 0.6M548.1 197.7l0.0 0.4M472.4 63.3l-0.0 0.0M499.9 64.7l0.7 1.0M545.4 156.4l0.2 0.3M502.9 108.3l1.0 1.2M487.3 47.2l0.0 0.0M511.5 173.6l-0.9 0.8M547.0 107.6l0.0 0.0M443.8 160.0l0.0 0.0M497.1 66.5l0.0 0.0M441.9 139.7l0.4 0.2M540.2 213.4l-1.0 0.7M417.7 59.1l0.6 1.0M432.7 100.8l-1.0 1.2M424.4 144.8l-0.0 0.0M497.8 69.7l0.4 0.7M491.7 173.9l0.3 0.2M526.0 220.9l-0.0 0.0M410.9 126.4l-0.0 0.0M533.8 205.8l0.4 0.1M500.5 134.6l-0.0 0.0M457.7 35.6l0.7 1.0M527.2 41.1l0.8 0.2M498.9 75.1l0.0 0.0M540.5 118.5l-0.1 0.4M431.8 179.1l0.0 0.0M410.7 126.6l-0.2 1.2M536.0 204.9l0.2 0.4M447.0 189.4l0.3 0.3M432.2 70.0l-0.9 0.8M466.2 63.6l-0.2 0.3M533.4 115.2l-0.1 0.4M518.5 175.3l1.2 0.1"/>
<path stroke="#4a88b4" stroke-width="2.2" d="M429.9 63.2l-0.5 0.6M430.2 130.7l-0.4 0.0M531.2 123.5l-0.4 0.0M461.6 19.3l-0.3 0.3M466.9 120.2l-1.4 0.7M529.2 43.0l1.2 0.3M479.3 110.1l0.3 1.6M435.2 109.5l-1.2 1.1M435.1 48.6l1.2 0.0M553.0 197.2l1.6 0.2M454.2 104.4l0.8 0.1M490.8 151.2l-0.8 0.9M398.5 133.9l0.3 1.2M512.4 99.0l-0.2 0.3M526.4 131.2l-0.0 0.0M571.0 151.5l0.3 0.3M536.8 222.7l0.9 0.8M423.4 126.5l-0.0 1.2M476.3 146.3l0.3 1.6M583.5 152.1l-0.8 0.0M464.3 113.7l0.0 0.0M551.1 218.4l-0.3 0.2M582.0 159.7l0.8 0.1M557.3 159.2l1.0 0.6M570.3 139.3l-0.0 0.0M466.5 72.3l0.0 0.0M483.7 28.6l1.3 0.9M540.1 221.6l-0.0 0.0M478.2 202.7l0.3 0.3M474.4 126.8l-1.2 0.0M473.2 194.0l-0.0 0.0M497.9 25.4l-0.3 0.3M538.9 135.5l-0.0 0.0M436.3 80.5l-0.0 0.0M405.8 96.1l-0.1 0.8M433.8 83.5l-0.0 0.0M440.1 46.4l-0.6 1.0M525.8 191.4l1.3 0.9M507.9 133.4l-0.7 0.4M550.3 104.5l-0.0 0.0M398.8 141.4l0.2 0.4M505.7 71.3l-0.6 0.6M546.5 115.7l0.4 0.0M467.3 160.1l0.6 0.6M530.2 82.3l0.4 0.1M535.4 61.1l-0.3 0.3M581.2 164.3l0.0 0.0M537.9 82.2l-0.0 0.0M578.3 199.0l0.4 0.1M591.6 148.4l-1.6 0.2M565.5 192.0l-1.2 0.1M464.7 130.6l-0.8 0.3M487.6 113.3l-0.0 0.0M544.2 74.9l0.0 0.0M532.9 186.3l0.4 1.5M526.9 143.8l-1.1 1.2M443.8 134.3l-0.0 0.0M421.8 122.5l0.0 0.8M434.2 152.3l-0.0 0.0M507.8 188.6l1.0 0.6M482.0 40.2l-0.4 0.2M523.7 158.0l0.0 0.0M472.4 166.8l-0.3 0.3M478.1 44.6l-0.0 0.0M532.7 148.0l0.3 0.8M517.5 66.0l-0.2 0.8M531.2 192.1l-0.0 0.0M439.8 122.6l-0.2 1.2M500.5 63.4l0.0 0.4M483.3 40.0l-0.1 1.2M507.6 38.5l-0.0 0.0M546.8 67.0l0.2 0.4M547.4 78.6l-1.2 0.3M396.3 140.4l-0.0 0.0M447.3 174.1l-0.0 0.0M451.4 164.9l-0.0 0.0M467.6 201.3l-0.0 0.0M473.6 167.5l-0.6 0.5M472.5 42.5l-0.0 0.4M451.1 189.2l0.0 0.0M510.9 51.9l0.4 0.1M540.4 223.5l0.0 0.0M586.0 173.1l0.4 1.6M446.8 17.7l-0.0 0.0M520.4 219.4l-1.1 0.5M548.4 182.7l-0.1 1.6M562.0 141.6l0.0 0.0M429.9 64.7l0.1 0.8M407.6 95.2l0.2 1.2M495.1 14.9l-0.1 1.2M433.7 94.7l-0.7 1.0M431.5 79.1l-1.2 0.2M570.7 127.7l-1.1 1.1M427.2 115.1l-0.0 0.0M495.8 71.8l-0.6 1.1M493.6 25.1l0.0 0.8M568.2 131.4l0.0 0.0M477.0 205.6l-0.3 0.3M569.8 146.7l-0.9 1.3M540.2 158.5l-0.0 0.0M464.2 172.6l-0.2 0.4M446.9 80.0l0.0 0.0M419.4 154.1l0.6 1.0M562.9 113.0l-0.0 0.8M571.3 104.2l0.1 1.2M410.3 115.6l-0.0 0.0M459.0 39.9l-0.3 1.2M537.7 105.5l0.2 0.4M469.7 142.6l-1.2 1.0M432.2 135.2l0.0 0.0M489.2 181.6l0.0 0.0"/>
<path stroke="#4a88b4" stroke-width="2.6" d="M454.3 112.1l1.4 0.8M570.3 160.2l-1.0 1.2M582.0 146.9l0.0 0.4M413.0 120.7l-0.5 1.1M525.6 150.6l-0.3 0.8M587.6 173.0l-0.0 0.0M562.3 168.8l0.0 0.0M417.6 61.9l1.2 0.0M426.0 100.1l-0.4 0.0M529.5 101.1l-0.8 0.9M522.8 73.6l0.0 0.4M440.8 133.1l0.8 0.1M567.8 169.5l0.1 0.4M433.6 87.1l-0.2 0.3M576.8 188.8l-0.2 0.3M457.6 82.7l0.6 1.0M440.3 80.7l-0.2 0.3M475.8 194.9l1.6 0.1M561.5 202.3l1.4 0.7M406.4 150.7l-1.1 1.2M574.2 117.1l0.1 0.8M512.0 51.2l0.6 0.5M550.9 211.6l0.0 0.0M500.8 120.1l-0.9 0.7M524.1 100.3l0.3 0.8M536.9 117.0l-0.3 0.2M498.7 46.3l-0.0 0.0M490.5 184.8l1.4 0.8M494.3 143.1l-0.8 0.1M503.9 203.2l0.0 0.0M404.5 125.9l-0.3 0.2M470.8 193.9l0.0 0.4M437.6 107.8l1.1 1.1M543.1 181.4l-0.0 0.0M533.9 210.5l-0.0 0.8M506.8 27.8l-1.4 0.7M520.2 34.9l-0.6 0.5M540.3 148.8l0.8 0.0M430.3 137.5l-0.0 0.0M538.0 137.5l-1.0 0.7M551.0 214.9l0.0 0.0M559.8 206.3l-0.0 0.0M537.5 134.9l1.0 0.6M464.6 145.7l0.0 0.0M519.7 124.5l0.3 0.3M454.1 47.7l0.9 1.3M528.4 116.3l-0.3 0.2M453.8 48.2l0.7 1.4M489.2 173.7l0.0 0.0M504.6 154.6l-0.1 0.4M519.7 114.2l0.6 1.0M541.2 215.0l0.8 0.9M488.5 71.7l0.0 0.0M463.2 32.3l0.0 0.0M475.5 191.8l1.5 0.4M473.7 85.3l0.2 0.4M436.7 142.7l-0.4 1.5M512.1 39.1l-0.0 0.0M452.8 38.1l0.0 0.0M451.0 183.4l1.1 0.4M458.0 97.9l0.0 0.0M491.8 16.1l0.4 0.7M458.1 43.5l-0.0 0.0M492.5 113.5l0.5 1.1M545.6 77.0l1.2 0.3M570.2 186.7l1.6 0.2M576.2 200.3l0.3 1.6M517.9 223.7l0.7 0.5M447.3 111.5l1.0 0.6M441.6 29.5l-1.3 0.9M526.6 101.7l-0.0 0.0M582.0 182.9l1.2 0.1M467.6 19.8l0.0 0.0M507.1 143.9l0.2 1.2M427.8 176.5l-0.7 0.4M559.6 132.9l-0.9 1.3M408.1 89.6l-0.0 0.0M480.8 112.6l0.3 0.3M462.2 19.2l-0.2 0.8M495.9 119.1l0.2 1.6M481.1 21.7l-0.8 0.1M577.4 135.4l-0.6 0.5M431.5 163.8l0.2 0.8M506.1 203.5l0.7 0.5M432.2 86.4l0.0 0.0M575.6 189.1l0.8 0.3M541.9 106.6l-0.4 0.1M400.0 139.6l1.1 0.4M567.1 146.9l0.0 0.0M564.1 188.8l0.0 0.0M482.8 101.6l1.6 0.3M536.2 139.2l0.0 0.0M508.5 89.3l0.2 0.4M406.4 133.2l-0.8 0.1M493.6 26.1l-0.2 0.3M491.9 185.4l-0.3 0.7M471.3 17.1l0.0 0.0M490.9 214.6l-0.3 0.3M505.6 193.1l-1.2 0.1M535.6 218.3l0.0 0.4M429.5 110.6l0.0 0.0M535.6 211.6l0.8 0.2M483.8 37.3l-0.0 0.4M431.9 141.4l0.0 0.0M445.5 81.2l-0.2 0.3M512.5 194.8l0.0 0.0M479.7 31.5l0.2 0.8M544.3 210.6l0.3 0.2M477.6 207.2l0.8 0.2M569.2 107.6l1.1 0.4M477.7 13.0l1.5 0.5M586.6 140.2l0.3 0.2M478.7 16.2l0.0 0.0M559.6 135.7l-0.0 0.0M508.4 24.0l0.4 0.1M528.2 186.6l1.1 0.5M530.0 131.6l0.0 0.0M444.8 69.9l-0.4 1.1M473.2 48.0l0.2 0.3M417.7 151.2l0.0 0.0M477.5 127.4l0.3 0.2M526.5 222.7l-0.7 1.4M520.5 181.9l0.7 0.4M546.5 67.4l-0.0 0.0M435.1 163.5l1.0 1.3M408.3 116.7l-0.0 0.0"/>
<path stroke="#285684" stroke-width="1.8" d="M536.4 98.6l0.0 0.0M496.3 108.9l0.0 0.0M407.3 112.2l-1.2 0.1M444.2 103.0l-1.5 0.7M523.9 73.6l-0.5 0.6M467.5 58.0l-0.0 0.0M421.9 109.4l-1.6 0.2M533.2 211.5l-1.1 1.1M531.9 112.5l0.0 0.0M567.3 123.9l0.2 0.8M477.6 56.8l0.4 0.1M578.9 186.8l-0.4 0.2M529.8 202.4l0.0 0.0M407.5 94.7l0.0 0.0M450.1 44.0l0.2 0.8M497.7 72.9l0.2 0.3M522.8 133.3l-0.7 0.4M453.1 28.1l1.2 0.0M502.2 157.6l0.1 0.4M498.4 42.1l1.1 0.4M491.5 51.9l0.7 1.0M517.4 34.7l-0.4 0.2M495.9 98.3l-0.1 0.4M501.6 100.6l0.5 0.6M476.3 75.8l0.0 0.0M460.1 68.3l0.1 0.4M427.4 72.6l-1.0 1.2M588.8 162.3l-0.0 0.0M461.1 72.5l0.0 0.0M515.1 162.9l-0.0 0.0M517.4 29.4l-0.8 0.2M539.4 110.5l-1.5 0.4M496.0 146.4l0.1 0.4M588.1 176.5l0.0 0.0M428.2 112.2l0.8 1.4M481.6 56.2l0.0 0.0M507.6 29.6l-0.0 0.0M522.2 159.5l-0.4 0.7M479.1 148.3l0.8 0.2M514.0 208.9l0.6 0.5M530.1 70.2l-0.0 0.0M489.0 211.3l0.8 0.1M588.4 156.7l0.0 0.0M481.3 168.7l-0.2 1.2M482.3 29.1l0.3 0.2M557.6 162.8l0.5 1.5M511.4 94.5l0.3 1.6M464.5 18.9l0.8 1.4M487.3 116.7l-0.0 0.0M415.2 65.6l0.0 0.0M480.1 68.5l0.0 0.0M551.8 144.9l-1.4 0.9M474.0 81.2l-0.4 0.0M582.9 164.1l0.0 0.0M518.3 107.4l1.1 0.4M484.3 193.8l0.5 1.1M497.7 167.3l0.0 0.0M509.4 168.6l0.2 0.4M500.7 164.9l-0.4 1.5M458.8 193.3l0.3 1.6M564.5 128.7l-0.0 0.0M455.9 191.2l-0.0 0.0M515.7 93.2l0.0 0.0M451.9 190.2l-1.2 0.2M446.7 137.9l0.7 0.4M417.3 138.1l0.3 0.7M568.9 172.3l-0.0 0.0M572.3 131.1l0.0 0.0M513.6 214.0l0.1 0.4M456.5 80.3l0.0 0.0M572.4 131.6l-0.7 0.4M427.3 114.0l0.0 0.0M556.2 215.3l-0.4 1.1M568.8 190.2l-0.1 1.6M507.7 200.8l-0.4 0.1M485.6 30.5l-0.0 0.0M507.6 126.3l0.3 0.3M541.5 153.3l0.0 0.0M477.8 121.2l-0.3 0.7M453.8 83.4l0.0 0.0M429.2 45.6l0.0 0.0M542.0 218.1l0.7 0.5M543.7 183.0l-0.3 0.2M434.9 92.5l0.0 0.0M517.0 74.3l-0.7 0.3M517.0 98.4l0.8 1.4M438.1 67.2l-0.0 0.0M443.4 145.7l0.4 1.5M412.1 80.2l0.9 0.7M542.6 145.3l0.0 0.0M529.2 55.0l0.8 0.2M549.7 190.1l-0.0 0.0M422.5 128.5l-0.0 0.0M419.2 64.3l0.7 0.4M483.1 188.7l-0.3 0.3M539.3 88.9l1.2 0.1M482.5 61.8l1.2 0.1M507.7 24.1l0.2 0.4M540.2 219.2l0.9 1.4M510.3 177.6l-0.3 0.2M481.1 201.6l0.3 0.2M459.4 159.0l-0.0 0.0M470.9 116.4l0.0 1.2M432.0 152.5l0.0 0.0M425.8 115.2l1.5 0.6M569.4 108.6l-0.7 0.4M491.2 49.4l-0.6 1.5M502.7 104.3l-0.0 0.0M520.0 184.6l0.0 0.0M543.9 77.1l0.0 0.0M487.0 51.5l-0.0 0.0M443.0 164.6l0.0 0.0M469.3 62.8l-0.0 0.0M457.9 87.1l-0.6 1.0M470.1 160.5l0.0 0.0M504.5 186.5l-0.0 0.0M483.4 57.9l0.0 0.0"/>
<path stroke="#285684" stroke-width="2.2" d="M515.5 60.5l0.4 0.2M534.0 136.6l1.5 0.7M503.8 69.3l-1.2 1.0M540.5 88.4l-1.1 1.1M436.6 85.0l-0.8 1.4M454.0 45.1l-0.0 0.0M474.3 67.4l-1.0 0.7M435.0 163.1l0.0 0.8M498.2 105.5l0.0 0.0M514.5 85.9l1.4 0.8M529.3 142.3l-0.3 0.3M480.0 175.5l-0.0 0.0M448.3 110.2l-1.6 0.1M413.3 74.3l1.3 0.9M557.3 214.4l0.0 0.0M569.5 201.0l-0.0 0.0M559.4 210.8l0.0 0.0M526.1 134.6l-0.6 0.5M544.0 81.0l0.6 1.0M548.2 149.5l1.0 0.7M525.0 149.7l-0.0 0.0M425.1 49.8l0.4 0.0M419.0 120.9l-0.0 0.0M516.7 195.8l-0.2 1.6M448.6 188.3l-0.0 0.0M566.6 108.4l0.4 1.1M456.4 112.0l0.0 0.0M552.5 153.8l1.6 0.1M415.9 157.8l0.0 0.0M445.0 165.1l-0.1 1.2M503.0 120.0l-0.4 0.2M584.0 176.8l0.0 0.0M518.6 175.8l0.4 0.1M450.5 149.1l-0.4 0.1M494.9 172.2l-1.3 1.0M453.4 147.1l0.5 0.6M509.7 107.2l-0.2 0.3M584.3 137.5l-0.0 0.0M432.8 50.4l-0.0 0.4M531.2 124.3l-0.0 0.0M466.2 64.5l0.8 0.1M497.9 186.6l0.0 0.0M413.8 88.7l-0.3 0.7M542.2 124.9l-0.5 0.6M446.3 172.3l-0.0 0.0M507.6 216.5l1.1 0.5M571.5 156.8l0.4 0.1M451.9 91.8l0.0 0.0M535.1 144.5l0.7 1.0M570.5 152.2l-0.0 0.0M478.9 178.1l-0.0 0.0M500.6 174.5l-0.0 0.4M429.7 172.2l-0.7 1.4M455.1 83.0l0.0 0.0M441.3 24.1l0.4 0.2M518.6 141.2l0.9 1.3M534.5 101.6l-0.3 0.2M442.7 175.2l-0.0 0.0M472.6 104.6l0.0 0.0M519.1 136.0l-1.0 1.3M425.4 48.0l-0.0 0.0M464.3 106.5l1.4 0.7M403.5 120.0l-0.6 1.5M427.8 154.4l-0.0 0.0M479.6 97.2l-0.0 0.0M507.8 38.2l0.0 0.0M411.6 108.9l0.0 0.0M483.0 170.3l0.0 0.0M478.8 165.6l0.0 0.0M431.2 131.4l-0.4 1.1M504.9 78.9l-0.0 0.0M500.5 213.7l0.0 0.0M541.6 208.6l0.2 0.3M440.9 133.8l-0.0 0.0M546.9 105.8l-0.7 0.5M537.7 191.8l0.0 0.0M455.5 194.7l0.0 0.0M524.8 45.2l0.2 0.4M553.8 110.4l-1.4 0.8M570.2 172.7l-0.0 0.0M546.3 67.6l-0.0 0.0M455.9 191.3l0.0 0.0M485.9 94.0l-1.2 0.2M447.9 32.1l-0.8 0.0M521.8 142.9l-0.3 0.7M573.8 165.5l-0.0 0.0M540.0 110.9l0.1 0.8M481.9 37.1l-1.2 1.0M501.1 68.4l0.2 0.8M420.5 63.6l-1.1 1.2M441.0 49.2l-0.0 0.0M556.5 127.5l-0.0 0.0M517.0 216.4l-0.0 0.0M464.3 199.1l0.0 0.0M533.7 55.4l-0.2 0.3M411.3 163.1l0.6 0.5M477.7 79.3l0.0 0.0M510.2 116.8l1.0 0.7M466.6 124.6l-0.0 0.0M482.5 42.6l0.2 0.4M462.5 195.8l-0.0 0.0M512.5 211.5l0.2 0.4M556.6 89.8l1.2 0.1M416.0 120.7l-0.6 1.5M525.6 143.0l-0.0 0.0M438.1 83.3l-0.0 0.0M473.7 105.5l-0.0 0.0M516.8 125.0l-0.0 0.0M518.0 97.1l-1.0 1.2M504.7 147.2l-0.0 0.0M499.2 80.6l0.0 0.0M442.1 169.7l-0.0 0.0M540.6 213.6l-0.8 0.2M495.6 167.0l0.3 0.3M467.8 199.3l1.0 1.3M478.6 126.5l-0.0 0.0M506.4 119.7l-0.3 0.2M476.2 169.1l0.0 0.0M447.8 94.6l-0.0 0.0M451.8 87.0l-1.2 0.1M511.5 158.8l-1.6 0.1M473.3 79.0l0.0 0.0M461.8 193.8l-0.6 1.1M424.3 54.8l0.0 0.0M580.3 146.1l-0.7 0.4M484.7 143.4l-1.6 0.0M525.3 199.6l0.5 0.6M407.3 111.9l-0.4 1.1"/>
<path stroke="#285684" stroke-width="2.6" d="M510.0 61.5l0.0 0.0M428.3 75.0l0.0 0.0M407.5 120.2l-0.0 0.0M465.9 199.1l-0.4 0.2M510.5 54.1l0.0 0.0M500.0 212.6l0.3 0.7M497.3 30.4l1.6 0.4M426.8 144.1l-0.5 1.5M426.5 117.8l0.1 1.6M457.0 180.9l0.6 0.5M501.0 40.7l0.0 0.0M577.5 149.7l-0.5 0.6M398.8 133.0l0.9 0.8M484.6 161.5l-0.6 1.0M506.0 61.0l-0.4 1.1M525.2 120.8l0.0 1.2M536.1 139.6l-0.0 0.0M505.9 38.7l-0.0 0.0M501.8 106.6l-1.2 0.0M578.8 136.8l-0.7 1.4M562.2 96.3l-0.3 1.2M543.6 220.8l0.7 1.4M496.8 15.8l-0.9 0.8M482.9 68.9l0.0 0.0M552.1 105.6l0.4 0.1M436.9 128.5l-0.4 1.5M475.7 34.9l-1.2 0.2M525.7 111.4l-0.3 0.8M475.6 202.5l-0.0 0.0M490.2 72.6l-0.0 0.8M557.3 140.3l-1.0 0.7M441.8 39.7l0.3 0.3M418.4 154.7l-0.0 0.0M520.3 112.8l-1.1 1.1M426.6 145.5l-0.0 0.0M482.9 189.3l0.1 0.4M578.4 163.0l0.0 0.0M468.2 57.1l0.8 0.2M509.5 41.0l-0.0 0.0M505.4 131.4l-1.6 0.1M576.7 163.5l-0.0 0.0M479.9 97.2l-0.3 0.3M545.1 220.3l-0.1 0.8M529.8 207.7l-0.7 1.0M404.4 110.6l0.6 0.5M482.4 139.4l-0.0 1.6M501.6 160.8l-0.0 0.8M476.9 82.2l-0.9 0.8M516.8 30.8l-1.6 0.3M534.3 210.1l0.2 0.4M512.0 87.0l-0.0 0.0M437.9 180.2l0.2 1.2M458.7 12.8l1.3 1.0M561.9 126.0l1.0 0.6M442.7 60.5l-0.3 0.2M497.7 57.0l-0.0 0.0M454.8 190.7l0.0 0.0M566.5 201.7l1.6 0.3M537.7 107.2l-0.4 0.0M489.5 205.4l-1.6 0.2M450.3 152.8l-0.1 0.4M434.0 76.2l-0.0 0.0M583.7 147.4l-0.4 1.1M476.9 116.4l1.6 0.0M502.4 59.7l-1.6 0.1M531.0 93.0l-0.0 0.0M453.6 126.7l-1.2 0.1M447.5 166.2l-0.0 0.0M501.7 95.6l0.7 0.4M523.3 158.1l0.1 0.4M561.8 95.7l0.4 0.7M524.1 126.3l-0.0 0.0M461.0 17.1l-0.0 0.0M501.9 211.5l-0.4 0.7M489.9 206.2l1.2 0.3M480.5 69.5l-1.2 0.2M443.4 187.2l0.0 0.0M522.0 175.8l-0.0 0.4M518.9 58.8l0.2 0.8M543.9 175.2l0.0 0.0M449.9 113.9l1.4 0.7M504.9 153.5l0.0 0.0M448.9 140.8l-0.5 1.5M559.4 199.2l0.0 0.0M542.2 202.5l1.2 0.0M428.1 151.1l0.6 0.6M440.2 49.9l-0.4 0.1M419.2 140.9l-0.4 0.0M467.2 125.8l0.6 1.1M509.5 44.3l0.3 0.3M564.4 203.5l-0.4 0.1M556.2 80.8l0.2 0.3M508.6 135.4l-0.0 0.0M417.0 82.4l1.6 0.4M494.7 95.6l0.0 0.0M492.4 29.0l1.0 0.7M510.6 172.8l0.8 0.2M433.9 28.1l-0.0 0.0M510.8 134.9l0.0 1.6M565.1 194.0l0.6 0.5M491.5 138.4l0.7 0.3M434.5 130.6l0.1 0.4M505.1 26.5l-1.0 0.6M523.7 178.6l-0.4 0.1M435.6 125.8l-0.0 0.0M501.9 220.3l0.4 0.0M472.4 191.3l0.0 0.0M477.5 167.7l0.2 1.2M503.7 141.7l-0.0 0.0M539.3 173.4l-1.1 0.3M429.1 125.8l0.0 0.0M467.5 114.8l0.3 0.2M448.8 39.7l0.4 0.1M510.1 89.0l-0.0 0.0M453.6 90.3l-0.0 0.0M465.9 203.2l-0.0 0.0M531.1 189.3l-1.4 0.9M539.3 108.2l-1.0 0.6M423.5 103.8l0.1 0.4M480.1 100.2l0.0 0.0M546.4 96.8l-0.0 0.0M422.1 167.9l-0.5 0.6M441.7 111.4l-0.2 0.4M460.4 24.8l-0.5 0.6M562.9 209.7l0.3 0.8M461.8 66.9l0.7 0.4M439.9 126.0l1.2 0.3M420.5 135.4l0.3 0.3M510.9 21.1l0.4 1.6"/>
<path stroke="#5694c2" stroke-width="1.8" d="M433.4 80.4l-0.0 0.0M569.6 160.4l0.0 0.0M532.4 124.0l0.1 0.4M422.7 96.0l-0.0 1.6M478.4 39.9l-0.0 0.0M423.4 54.4l0.0 0.0M514.7 138.8l-0.8 0.2M535.5 173.1l-0.0 0.0M543.8 213.1l0.5 1.1M546.9 87.0l0.1 0.8M524.7 216.0l-0.0 0.0M427.2 39.6l-0.1 0.4M552.5 124.9l-0.0 0.0M581.6 194.8l-1.2 0.1M454.4 44.1l-0.0 0.0M507.8 99.5l0.0 0.0M585.9 167.6l0.0 0.0M525.6 166.2l1.1 1.1M527.8 145.9l1.6 0.4M448.8 93.2l-0.0 0.0M481.1 139.8l-0.7 1.0M416.7 123.0l-0.7 0.3M538.3 50.7l-0.4 0.7M490.1 202.6l0.0 0.0M533.1 57.9l-0.8 1.4M485.2 72.0l-0.6 0.6M535.8 84.7l-0.0 0.0M423.5 151.8l0.4 0.0M452.5 30.7l-0.6 0.5M452.6 74.6l0.0 0.0M416.0 77.6l0.4 0.0M445.2 38.7l-0.2 0.4M463.1 197.6l-0.2 0.8M559.8 204.3l0.6 1.5M448.8 185.7l0.2 0.4M514.1 195.3l-0.2 0.4M525.4 70.9l0.0 0.0M578.1 136.0l-0.5 1.1M527.4 76.4l-0.2 0.3M530.2 115.3l-1.1 1.2M464.6 193.0l-0.4 1.1M417.6 139.4l-0.0 1.2M552.7 183.6l-0.0 0.0M540.0 94.1l0.6 1.1M441.3 51.5l-0.2 0.4M473.2 206.7l-0.1 1.2M553.8 177.7l0.0 1.6M565.4 206.5l-1.2 0.2M533.4 113.3l-1.2 0.1M472.1 69.7l0.4 0.0M481.8 104.1l0.0 0.8M524.3 117.8l0.2 1.2M489.2 46.7l-0.4 0.2M546.8 190.8l-1.5 0.4M524.6 57.8l-0.6 0.5M493.3 53.1l-1.5 0.5M474.0 203.6l0.7 0.4M426.6 35.7l-0.0 0.0M511.3 51.1l0.3 0.2M489.1 69.8l0.4 0.1M555.2 144.6l0.2 0.8M488.5 206.3l-0.0 0.0M565.8 201.8l-0.1 1.2M487.5 98.7l-1.6 0.2M477.1 144.5l-0.9 1.3M541.4 152.9l-1.6 0.3M449.2 17.6l-0.3 0.7M454.3 80.6l-0.0 0.0M443.1 30.8l1.1 0.6M493.6 190.7l0.1 1.6M416.2 159.7l-1.2 0.1M419.8 63.3l-0.0 0.0M497.9 208.2l0.2 1.6M483.9 116.8l1.0 0.6M471.5 180.8l0.0 0.0M483.1 50.4l-0.6 0.5M487.4 200.9l-1.2 0.3M569.1 110.8l1.2 0.1M443.4 109.9l-0.2 0.4M465.2 171.5l-0.0 0.0M575.5 197.5l-0.0 0.0M458.2 130.1l1.5 0.4M454.4 166.9l0.9 1.3M508.5 197.7l0.0 0.0M537.1 222.4l-0.4 0.2M530.9 73.4l0.8 0.2M476.4 178.8l-0.3 0.8M497.2 169.1l0.7 1.4M478.0 193.3l0.7 0.4M573.2 109.3l0.2 0.4M534.0 51.1l1.2 0.2M523.0 116.4l-1.1 0.4M453.9 38.7l0.0 0.0M446.9 75.7l0.4 0.0M501.0 68.2l-1.1 1.2M477.2 188.1l-0.0 0.0M454.4 61.5l0.0 0.0M471.3 33.8l-0.7 0.4M572.9 169.1l0.0 0.0M584.2 181.6l-1.1 0.5M551.9 171.9l0.5 0.6M560.2 166.6l0.0 0.0M407.2 146.1l-0.7 0.4M443.8 21.8l-0.0 0.0M408.5 155.3l0.6 0.6M481.0 168.3l0.3 1.2M446.2 65.1l0.3 1.6M509.9 22.6l-1.1 0.4M565.7 121.4l0.4 0.0M425.1 93.5l-0.0 0.0M484.4 64.7l0.8 0.3"/>
<path stroke="#5694c2" stroke-width="2.2" d="M544.1 119.8l-0.5 1.1M459.4 47.2l-1.2 1.1M534.2 74.4l-1.2 0.2M420.0 171.1l-0.4 0.1M431.5 45.2l0.0 0.0M560.8 170.2l0.1 0.4M401.4 136.3l1.5 0.6M527.5 164.6l-1.4 0.8M580.9 161.0l0.0 0.0M433.9 89.2l0.4 0.0M471.5 102.1l0.6 1.0M569.0 192.5l-0.6 0.5M494.7 137.3l-1.1 0.6M521.6 38.8l0.0 0.0M475.0 107.7l0.3 0.2M541.2 74.8l-0.1 1.2M513.5 177.0l-1.5 0.5M520.1 104.0l-0.1 0.8M454.8 44.2l0.4 0.0M510.1 22.9l0.8 0.2M474.1 120.2l0.4 1.5M457.6 58.5l0.7 0.3M408.7 157.8l-0.7 0.4M526.4 47.4l0.3 1.2M530.8 76.3l0.0 0.0M553.7 107.5l-0.2 0.8M487.1 156.3l0.0 0.0M439.4 131.7l1.6 0.1M556.4 81.0l1.0 0.7M558.6 92.8l-0.6 0.5M496.5 190.4l0.0 0.0M532.0 165.0l0.6 0.6M458.1 95.7l-1.1 1.2M498.3 107.0l0.4 0.1M573.2 129.0l0.5 0.6M467.6 61.4l-0.1 0.4M521.9 118.5l0.2 0.3M500.3 31.4l0.0 0.0M532.5 50.3l-0.4 0.1M574.2 120.4l0.0 0.0M542.5 62.1l-0.0 1.2M491.0 27.4l-1.6 0.1M550.3 78.3l-0.1 0.4M509.4 92.0l-0.0 0.0M429.8 106.2l-0.0 0.4M483.7 112.8l-1.0 0.7M522.9 183.3l-0.0 0.0M414.3 92.7l-0.5 1.1M546.4 104.7l-0.0 0.0M501.4 184.4l-0.0 0.0M449.6 63.7l0.0 0.0M531.0 193.3l0.5 0.7M571.4 165.0l-0.0 0.0M422.1 105.3l-0.0 0.0M508.1 111.0l-1.1 0.3M411.5 162.8l-0.0 0.0M582.2 136.2l-0.4 0.0M495.7 163.0l-0.6 1.0M484.6 117.9l-0.2 0.4M426.2 119.2l-1.2 0.3M565.2 169.5l-0.4 0.1M515.4 38.4l1.0 1.3M579.2 184.3l-1.2 0.2M487.7 15.0l0.3 0.2M592.0 153.9l-0.0 0.0M551.6 142.6l-1.4 0.8M497.1 193.1l-1.5 0.5M517.9 87.3l-0.0 0.0M580.7 124.3l0.3 1.6M520.0 60.7l-1.0 1.3M506.4 178.7l0.8 0.0M400.8 151.7l0.4 0.1M534.8 55.9l-0.7 1.0M424.8 137.7l0.9 0.8M504.6 201.2l1.3 0.9M528.1 170.1l-0.5 0.6M442.6 69.6l-0.3 1.6M507.4 113.1l-0.4 0.1M498.1 204.9l0.0 0.0M448.6 88.7l0.4 0.1M510.2 136.0l1.0 1.2M482.5 77.5l0.0 0.0M459.7 192.9l-0.0 0.0M437.9 55.9l-0.5 1.5M460.8 32.3l0.2 0.3M444.8 105.2l0.2 0.8M449.9 76.2l-1.5 0.5M543.3 184.0l-0.6 0.5M404.5 154.1l-0.7 1.4M557.0 86.6l-0.0 0.0M493.9 186.2l-0.1 1.2M480.6 195.2l-0.4 0.7M459.1 122.1l-0.3 1.2M549.8 177.5l0.0 0.0M413.0 131.4l0.1 1.6M439.5 107.1l0.0 0.0"/>
<path stroke="#5694c2" stroke-width="2.6" d="M432.4 161.1l-0.0 0.0M436.3 127.9l1.0 0.6M491.3 119.2l-0.0 0.0M554.9 146.1l-0.0 0.0M500.2 216.5l0.8 0.2M512.2 113.4l-0.0 0.0M461.0 176.7l-1.6 0.3M423.0 79.2l0.0 0.4M444.4 32.0l-0.8 0.2M494.7 211.0l0.2 0.8M480.8 207.7l0.0 0.0M544.0 152.8l-1.6 0.0M414.3 131.2l0.8 0.3M465.7 54.1l-0.7 0.4M556.4 114.1l0.0 0.0M471.4 29.6l-0.0 0.0M411.7 121.6l-0.0 0.4M571.1 126.9l0.0 1.2M489.6 24.4l-0.0 0.0M572.4 156.4l-0.0 0.0M579.8 159.7l-0.0 0.0M509.5 165.1l-0.0 0.0M511.1 121.4l0.0 0.0M417.3 145.6l-0.0 0.0M590.1 152.8l0.0 0.0M408.5 90.9l0.0 0.0M557.3 169.3l-1.3 0.9M511.8 176.1l-0.4 0.0M444.4 86.6l-0.3 0.3M555.0 201.6l-0.2 0.8M426.1 143.8l-0.8 0.2M520.2 205.6l-0.4 1.5M557.0 173.6l-0.0 0.0M572.7 169.1l0.1 0.8M463.8 155.6l-0.7 0.4M487.1 140.0l-0.0 0.0M449.2 89.2l-0.8 0.3M517.2 174.3l0.0 0.0M501.1 72.2l-1.2 0.0M555.9 201.2l0.3 0.3M428.6 47.0l0.0 0.4M550.8 173.0l0.7 0.3M426.5 137.4l-0.0 1.6M526.3 217.4l-0.3 1.6M437.0 28.7l-0.0 0.0M489.1 163.9l-1.1 1.1M455.3 72.7l0.1 1.6M513.4 196.8l0.7 0.5M531.9 202.8l-1.2 1.0M470.7 56.8l0.4 0.1M418.5 59.0l-0.0 0.0M399.6 135.0l-0.3 0.2M539.1 156.8l-0.3 0.2M428.1 172.6l-0.0 0.0M446.7 76.1l-1.2 0.1M504.1 206.1l0.6 0.5M440.5 102.6l-0.4 0.0M580.1 194.6l-1.1 0.5M517.4 94.0l-1.0 0.6M490.6 155.0l-0.0 0.0M551.2 196.0l-0.0 0.4M576.1 187.3l0.0 0.0M479.3 45.0l-1.6 0.2M408.2 95.6l-1.0 0.7M505.4 26.2l-0.2 1.2M494.3 16.7l0.0 0.0M502.1 64.9l-0.4 1.1M498.2 164.9l1.0 0.7M429.8 70.7l-0.3 0.2M552.6 124.8l-0.2 0.8M496.4 188.9l-0.4 0.1M484.7 33.7l1.2 0.1M465.7 195.0l-0.3 0.7M475.3 106.7l0.4 0.7M503.6 33.3l1.0 0.7M555.1 146.2l-0.4 1.1M573.1 201.4l0.4 0.7M477.3 200.4l0.0 0.0M458.6 18.0l0.0 0.0M494.1 200.9l1.3 0.9M499.0 16.3l0.5 0.6M454.3 119.6l1.2 0.2M559.6 87.4l0.0 0.0M547.0 85.9l0.0 0.0M510.8 97.7l0.0 0.0M474.9 57.6l-1.2 0.2M431.7 148.2l0.0 0.8M530.6 195.4l-0.5 1.5M532.9 221.4l-0.6 1.5M577.4 170.7l0.2 0.8M511.1 135.0l-0.2 0.4M442.3 70.0l0.0 0.0M579.3 126.2l0.8 0.2M396.7 130.3l0.0 0.0M531.2 195.7l-0.8 0.2M550.8 93.5l0.1 0.4M501.4 81.1l-0.0 0.0M449.6 39.3l0.0 0.0M553.4 117.1l-0.0 0.0M561.7 150.9l-1.1 0.4M507.1 27.7l0.0 0.0M432.2 78.5l0.0 0.0M491.7 203.6l-0.0 0.0M497.5 187.6l1.4 0.8M539.3 222.7l-0.3 0.2"/>
</g></g>
<defs><filter id="gb" x="-50%" y="-50%" width="200%" height="200%"><feGaussianBlur stdDeviation="2.2"/></filter></defs>
<g clip-path="url(#blob)">
<path d="M435,148 L445,149 L455,151 L466,153 L478,155 L490,158 L497,163 L496,169 L488,171 L476,169 L466,165 L455,157 L445,154 L435,152 Z" fill="#50c868" opacity="0.45" filter="url(#gb)"/>
<ellipse cx="484" cy="163" rx="8" ry="4" fill="#b0f0e0" opacity="0.5" filter="url(#gb)" transform="rotate(20 484 163)"/>
<ellipse cx="541" cy="180" rx="8" ry="6" fill="#4aa8b8" opacity="0.35" filter="url(#gb)"/>
<circle cx="469.4" cy="156.2" r="0.9" fill="#40b850"/><circle cx="438.6" cy="148.5" r="0.7" fill="#78e098"/><circle cx="472.4" cy="163.9" r="0.7" fill="#5ad46c"/><circle cx="437.9" cy="151.8" r="1.3" fill="#a8ecd0"/><circle cx="485.3" cy="159.0" r="1.1" fill="#78e098"/><circle cx="471.9" cy="160.7" r="1.3" fill="#5ad46c"/><circle cx="478.1" cy="167.4" r="1.1" fill="#a8ecd0"/><circle cx="456.4" cy="155.8" r="1.3" fill="#78e098"/><circle cx="438.5" cy="148.6" r="1.3" fill="#5ad46c"/><circle cx="472.1" cy="165.1" r="1.1" fill="#78e098"/><circle cx="460.5" cy="153.8" r="1.3" fill="#4cc85c"/><circle cx="461.4" cy="156.0" r="0.9" fill="#78e098"/><circle cx="444.0" cy="150.9" r="0.9" fill="#4cc85c"/><circle cx="446.0" cy="153.9" r="1.3" fill="#4cc85c"/><circle cx="469.3" cy="163.1" r="0.9" fill="#5ad46c"/><circle cx="479.6" cy="160.4" r="0.7" fill="#a8ecd0"/><circle cx="470.9" cy="157.1" r="0.7" fill="#78e098"/><circle cx="465.8" cy="157.2" r="0.7" fill="#4cc85c"/><circle cx="473.8" cy="159.3" r="1.3" fill="#40b850"/><circle cx="484.9" cy="160.9" r="1.1" fill="#a8ecd0"/><circle cx="476.0" cy="163.2" r="0.9" fill="#4cc85c"/><circle cx="488.0" cy="166.7" r="0.9" fill="#4cc85c"/><circle cx="468.2" cy="156.0" r="0.7" fill="#40b850"/><circle cx="486.1" cy="159.2" r="1.1" fill="#4cc85c"/><circle cx="458.1" cy="152.2" r="1.3" fill="#4cc85c"/><circle cx="447.0" cy="151.7" r="0.7" fill="#a8ecd0"/><circle cx="465.6" cy="164.3" r="0.7" fill="#40b850"/><circle cx="494.0" cy="167.9" r="1.3" fill="#4cc85c"/><circle cx="496.4" cy="166.2" r="1.3" fill="#78e098"/><circle cx="474.4" cy="162.7" r="1.1" fill="#78e098"/><circle cx="493.2" cy="164.5" r="1.3" fill="#a8ecd0"/><circle cx="488.6" cy="170.6" r="0.9" fill="#4cc85c"/><circle cx="481.9" cy="161.6" r="1.3" fill="#5ad46c"/><circle cx="467.5" cy="161.7" r="1.3" fill="#40b850"/><circle cx="487.3" cy="160.2" r="1.1" fill="#4cc85c"/><circle cx="461.5" cy="157.0" r="0.7" fill="#5ad46c"/><circle cx="478.3" cy="158.0" r="1.1" fill="#4cc85c"/><circle cx="460.3" cy="159.6" r="0.9" fill="#4cc85c"/><circle cx="460.7" cy="157.8" r="1.1" fill="#5ad46c"/><circle cx="480.4" cy="156.8" r="1.1" fill="#a8ecd0"/><circle cx="494.2" cy="168.9" r="1.3" fill="#5ad46c"/><circle cx="471.7" cy="165.6" r="1.1" fill="#40b850"/><circle cx="495.9" cy="163.8" r="0.7" fill="#5ad46c"/><circle cx="475.5" cy="160.9" r="1.1" fill="#4cc85c"/><circle cx="477.4" cy="164.2" r="1.3" fill="#78e098"/><circle cx="448.2" cy="152.4" r="0.9" fill="#4cc85c"/><circle cx="460.7" cy="155.7" r="0.9" fill="#40b850"/><circle cx="446.2" cy="153.5" r="1.1" fill="#40b850"/><circle cx="458.0" cy="155.2" r="1.1" fill="#a8ecd0"/><circle cx="454.4" cy="156.0" r="1.1" fill="#40b850"/><circle cx="459.2" cy="159.3" r="0.9" fill="#a8ecd0"/><circle cx="460.0" cy="154.4" r="0.7" fill="#4cc85c"/><circle cx="472.6" cy="160.8" r="1.3" fill="#4cc85c"/><circle cx="484.4" cy="166.2" r="0.9" fill="#78e098"/><circle cx="481.2" cy="160.4" r="0.9" fill="#78e098"/><circle cx="494.1" cy="167.1" r="0.7" fill="#a8ecd0"/><circle cx="488.5" cy="162.4" r="0.7" fill="#4cc85c"/><circle cx="436.1" cy="149.7" r="0.7" fill="#5ad46c"/><circle cx="458.9" cy="158.6" r="0.7" fill="#40b850"/><circle cx="475.3" cy="165.1" r="1.1" fill="#78e098"/><circle cx="483.4" cy="160.1" r="0.7" fill="#a8ecd0"/><circle cx="466.6" cy="156.7" r="1.1" fill="#78e098"/><circle cx="484.6" cy="163.3" r="0.7" fill="#4cc85c"/><circle cx="473.6" cy="155.3" r="0.9" fill="#5ad46c"/><circle cx="479.7" cy="164.9" r="1.1" fill="#5ad46c"/><circle cx="464.7" cy="159.1" r="0.9" fill="#40b850"/><circle cx="465.2" cy="154.1" r="1.3" fill="#40b850"/><circle cx="438.9" cy="148.5" r="1.1" fill="#a8ecd0"/><circle cx="488.1" cy="160.2" r="1.1" fill="#40b850"/><circle cx="463.8" cy="154.5" r="1.3" fill="#4cc85c"/><circle cx="456.7" cy="154.9" r="0.7" fill="#5ad46c"/><circle cx="455.4" cy="155.5" r="0.7" fill="#78e098"/><circle cx="483.9" cy="169.9" r="0.7" fill="#5ad46c"/><circle cx="485.8" cy="158.0" r="1.3" fill="#40b850"/><circle cx="470.2" cy="166.1" r="1.3" fill="#40b850"/><circle cx="456.7" cy="154.3" r="1.3" fill="#5ad46c"/><circle cx="470.8" cy="157.0" r="0.9" fill="#4cc85c"/><circle cx="487.6" cy="161.4" r="1.1" fill="#78e098"/><circle cx="443.2" cy="151.4" r="0.9" fill="#40b850"/><circle cx="449.8" cy="153.2" r="0.9" fill="#a8ecd0"/><circle cx="492.6" cy="167.0" r="1.3" fill="#78e098"/><circle cx="461.3" cy="160.7" r="1.1" fill="#78e098"/><circle cx="448.3" cy="153.6" r="1.3" fill="#4cc85c"/><circle cx="460.4" cy="158.5" r="0.7" fill="#5ad46c"/><circle cx="484.4" cy="168.5" r="1.3" fill="#a8ecd0"/><circle cx="495.2" cy="169.1" r="1.3" fill="#78e098"/><circle cx="481.6" cy="164.1" r="0.7" fill="#78e098"/><circle cx="494.7" cy="164.1" r="0.9" fill="#5ad46c"/><circle cx="475.3" cy="160.8" r="0.7" fill="#78e098"/><circle cx="437.7" cy="151.4" r="0.7" fill="#78e098"/><circle cx="482.8" cy="160.1" r="1.3" fill="#4cc85c"/><circle cx="477.9" cy="156.6" r="1.1" fill="#5ad46c"/><circle cx="463.5" cy="155.1" r="0.7" fill="#78e098"/><circle cx="475.3" cy="157.3" r="0.7" fill="#78e098"/><circle cx="438.1" cy="151.5" r="1.1" fill="#40b850"/><circle cx="458.0" cy="155.4" r="0.7" fill="#a8ecd0"/><circle cx="454.9" cy="153.7" r="0.7" fill="#40b850"/><circle cx="482.7" cy="169.0" r="0.9" fill="#4cc85c"/><circle cx="455.6" cy="154.9" r="0.7" fill="#5ad46c"/><circle cx="467.8" cy="157.0" r="0.9" fill="#4cc85c"/><circle cx="465.8" cy="161.2" r="1.3" fill="#4cc85c"/><circle cx="480.8" cy="158.5" r="0.9" fill="#4cc85c"/><circle cx="478.5" cy="166.9" r="1.1" fill="#40b850"/><circle cx="447.1" cy="152.9" r="0.9" fill="#4cc85c"/><circle cx="472.2" cy="155.1" r="1.1" fill="#78e098"/><circle cx="488.1" cy="169.5" r="0.7" fill="#5ad46c"/><circle cx="485.1" cy="164.6" r="0.7" fill="#40b850"/><circle cx="476.1" cy="165.9" r="0.9" fill="#5ad46c"/><circle cx="494.3" cy="168.8" r="1.3" fill="#5ad46c"/><circle cx="454.6" cy="151.7" r="1.3" fill="#78e098"/>
<path d="M402,153 Q406,163 417,170" fill="none" stroke="#38a848" stroke-width="1.4" opacity="0.9"/>
<path d="M394,135 Q394,140 395,145" fill="none" stroke="#3cb050" stroke-width="0.8" opacity="0.7"/>
<path d="M584,128 Q592,142 594,158 Q594,170 588,180 Q584,192 578,200 Q568,210 556,217 Q548,222 540,225" fill="none" stroke="#c02040" stroke-width="0.7" opacity="0.8"/>
<circle cx="480.5" cy="151.6" r="0.8" fill="#ff70a8"/><circle cx="484.2" cy="167.2" r="1.0" fill="#e8306e"/><circle cx="493.9" cy="157.8" r="0.7" fill="#ff5a98"/><circle cx="494.7" cy="149.8" r="1.0" fill="#ff70a8"/><circle cx="513.3" cy="162.9" r="0.5" fill="#ff5a98"/><circle cx="503.8" cy="162.1" r="0.8" fill="#e8306e"/><circle cx="515.7" cy="163.6" r="0.6" fill="#d82a5a"/><circle cx="482.5" cy="151.3" r="0.9" fill="#ff5a98"/><circle cx="496.4" cy="153.9" r="0.5" fill="#ff3a78"/><circle cx="500.1" cy="171.1" r="0.8" fill="#ff3a78"/><circle cx="500.9" cy="181.4" r="1.0" fill="#ff70a8"/><circle cx="484.9" cy="160.5" r="0.6" fill="#ff70a8"/><circle cx="484.9" cy="150.4" r="0.8" fill="#d82a5a"/><circle cx="508.1" cy="176.5" r="0.6" fill="#ff5a98"/><circle cx="483.1" cy="182.0" r="0.8" fill="#ff5a98"/><circle cx="480.1" cy="181.3" r="0.8" fill="#ff3a78"/><circle cx="514.2" cy="170.3" r="0.6" fill="#e8306e"/><circle cx="502.8" cy="170.1" r="0.6" fill="#d82a5a"/><circle cx="485.3" cy="155.9" r="0.8" fill="#ff70a8"/><circle cx="484.3" cy="160.9" r="0.6" fill="#e8306e"/><circle cx="516.8" cy="177.4" r="0.6" fill="#ff3a78"/><circle cx="513.4" cy="178.3" r="1.0" fill="#ff3a78"/><circle cx="504.7" cy="159.7" r="0.8" fill="#ff70a8"/><circle cx="496.2" cy="178.6" r="0.7" fill="#d82a5a"/><circle cx="490.3" cy="157.0" r="0.8" fill="#ff5a98"/><circle cx="495.9" cy="163.8" r="0.5" fill="#ff3a78"/><circle cx="502.8" cy="165.6" r="0.6" fill="#d82a5a"/><circle cx="508.5" cy="176.1" r="0.8" fill="#e8306e"/><circle cx="510.4" cy="162.4" r="0.5" fill="#e8306e"/><circle cx="492.3" cy="161.2" r="0.8" fill="#ff70a8"/><circle cx="498.4" cy="149.5" r="1.0" fill="#e8306e"/><circle cx="481.3" cy="174.4" r="1.0" fill="#ff70a8"/><circle cx="481.2" cy="175.1" r="0.8" fill="#e8306e"/><circle cx="479.0" cy="150.4" r="0.9" fill="#ff3a78"/><circle cx="485.7" cy="183.3" r="0.8" fill="#ff5a98"/><circle cx="516.3" cy="181.0" r="0.6" fill="#e8306e"/><circle cx="480.6" cy="160.6" r="0.7" fill="#e8306e"/><circle cx="491.0" cy="170.1" r="0.8" fill="#e8306e"/><circle cx="488.2" cy="182.7" r="0.8" fill="#e8306e"/><circle cx="501.7" cy="170.2" r="0.6" fill="#ff5a98"/><circle cx="492.9" cy="155.2" r="0.8" fill="#e8306e"/><circle cx="503.5" cy="158.0" r="0.7" fill="#d82a5a"/><circle cx="484.7" cy="176.3" r="0.5" fill="#ff70a8"/><circle cx="479.9" cy="178.9" r="0.8" fill="#ff70a8"/><circle cx="498.9" cy="172.8" r="0.5" fill="#ff5a98"/><circle cx="517.7" cy="170.7" r="0.8" fill="#ff5a98"/><circle cx="488.6" cy="183.7" r="0.9" fill="#e8306e"/><circle cx="492.4" cy="175.5" r="0.8" fill="#e8306e"/><circle cx="485.1" cy="174.8" r="0.5" fill="#ff5a98"/><circle cx="510.8" cy="157.1" r="1.0" fill="#ff70a8"/><circle cx="515.1" cy="180.2" r="1.0" fill="#ff3a78"/><circle cx="507.9" cy="156.0" r="0.7" fill="#ff70a8"/><circle cx="503.0" cy="163.0" r="0.7" fill="#ff3a78"/><circle cx="483.3" cy="156.2" r="1.0" fill="#ff3a78"/><circle cx="478.9" cy="148.1" r="0.7" fill="#ff5a98"/><circle cx="482.3" cy="160.9" r="0.6" fill="#d82a5a"/><circle cx="501.3" cy="169.2" r="0.6" fill="#ff5a98"/><circle cx="503.0" cy="165.1" r="0.6" fill="#ff3a78"/><circle cx="515.5" cy="156.8" r="0.6" fill="#d82a5a"/><circle cx="481.8" cy="171.0" r="1.0" fill="#ff5a98"/><circle cx="494.1" cy="157.5" r="0.5" fill="#ff3a78"/><circle cx="503.8" cy="168.2" r="0.7" fill="#ff70a8"/><circle cx="503.8" cy="164.0" r="0.9" fill="#d82a5a"/><circle cx="487.9" cy="180.5" r="0.5" fill="#ff3a78"/><circle cx="499.3" cy="162.6" r="0.6" fill="#e8306e"/><circle cx="480.3" cy="176.0" r="0.5" fill="#ff70a8"/><circle cx="500.0" cy="181.9" r="0.6" fill="#d82a5a"/><circle cx="486.0" cy="169.9" r="0.9" fill="#d82a5a"/><circle cx="510.5" cy="154.3" r="0.7" fill="#ff3a78"/><circle cx="490.0" cy="149.7" r="1.0" fill="#d82a5a"/><circle cx="506.6" cy="148.2" r="0.8" fill="#d82a5a"/><circle cx="481.2" cy="171.6" r="0.6" fill="#e8306e"/><circle cx="517.9" cy="157.4" r="1.0" fill="#ff3a78"/><circle cx="482.9" cy="180.1" r="1.0" fill="#ff5a98"/><circle cx="506.5" cy="157.6" r="0.9" fill="#d82a5a"/><circle cx="505.4" cy="181.0" r="0.7" fill="#ff5a98"/><circle cx="503.7" cy="182.7" r="0.6" fill="#ff3a78"/><circle cx="513.2" cy="148.5" r="0.7" fill="#e8306e"/><circle cx="511.7" cy="155.3" r="0.6" fill="#ff5a98"/><circle cx="485.7" cy="162.0" r="0.9" fill="#e8306e"/><circle cx="464.5" cy="198.7" r="0.9" fill="#d82a5a"/><circle cx="433.0" cy="167.1" r="0.5" fill="#ff3a78"/><circle cx="439.9" cy="151.5" r="0.6" fill="#d82a5a"/><circle cx="443.6" cy="135.4" r="0.6" fill="#e8306e"/><circle cx="402.3" cy="137.8" r="0.9" fill="#e8306e"/><circle cx="424.1" cy="139.9" r="0.5" fill="#ff3a78"/><circle cx="444.4" cy="178.8" r="1.0" fill="#ff3a78"/><circle cx="457.4" cy="192.4" r="0.5" fill="#d82a5a"/><circle cx="407.5" cy="144.4" r="0.5" fill="#ff3a78"/><circle cx="456.8" cy="174.4" r="1.0" fill="#ff5a98"/><circle cx="433.4" cy="139.3" r="1.0" fill="#e8306e"/><circle cx="420.6" cy="153.6" r="0.7" fill="#ff3a78"/><circle cx="463.7" cy="183.8" r="0.9" fill="#ff70a8"/><circle cx="433.3" cy="150.1" r="1.0" fill="#ff3a78"/><circle cx="455.2" cy="132.2" r="0.9" fill="#ff3a78"/><circle cx="437.7" cy="145.2" r="0.5" fill="#ff70a8"/><circle cx="457.4" cy="141.9" r="0.5" fill="#ff70a8"/><circle cx="468.5" cy="130.3" r="0.8" fill="#ff3a78"/><circle cx="412.9" cy="164.6" r="0.7" fill="#ff70a8"/><circle cx="419.9" cy="145.0" r="1.0" fill="#e8306e"/><circle cx="434.9" cy="137.7" r="1.0" fill="#ff3a78"/><circle cx="439.3" cy="137.3" r="0.7" fill="#ff5a98"/><circle cx="462.4" cy="182.2" r="0.8" fill="#ff3a78"/><circle cx="426.0" cy="151.2" r="0.8" fill="#ff70a8"/><circle cx="435.1" cy="156.6" r="1.0" fill="#e8306e"/><circle cx="466.1" cy="138.9" r="0.9" fill="#ff70a8"/><circle cx="445.2" cy="154.4" r="0.7" fill="#ff70a8"/><circle cx="446.3" cy="181.9" r="0.6" fill="#d82a5a"/><circle cx="440.5" cy="138.8" r="0.8" fill="#e8306e"/><circle cx="435.5" cy="148.7" r="1.0" fill="#ff70a8"/><circle cx="410.8" cy="140.9" r="0.6" fill="#ff5a98"/><circle cx="442.2" cy="154.4" r="0.6" fill="#ff5a98"/><circle cx="466.9" cy="148.1" r="1.0" fill="#ff3a78"/><circle cx="413.7" cy="140.6" r="0.6" fill="#ff5a98"/><circle cx="451.3" cy="160.4" r="0.6" fill="#ff3a78"/><circle cx="444.7" cy="137.5" r="0.6" fill="#d82a5a"/><circle cx="432.5" cy="130.9" r="0.8" fill="#e8306e"/><circle cx="435.0" cy="174.3" r="0.8" fill="#ff3a78"/><circle cx="463.6" cy="160.1" r="0.9" fill="#ff70a8"/><circle cx="452.4" cy="159.5" r="0.6" fill="#ff70a8"/><circle cx="565.7" cy="198.9" r="1.0" fill="#ff3a78"/><circle cx="499.9" cy="172.5" r="1.0" fill="#ff3a78"/><circle cx="572.6" cy="167.5" r="0.8" fill="#e8306e"/><circle cx="466.3" cy="180.5" r="0.8" fill="#ff3a78"/><circle cx="527.6" cy="179.5" r="1.0" fill="#e8306e"/><circle cx="572.6" cy="173.6" r="0.5" fill="#d82a5a"/><circle cx="442.6" cy="168.1" r="0.6" fill="#e8306e"/><circle cx="543.2" cy="218.5" r="0.6" fill="#ff70a8"/><circle cx="482.5" cy="211.0" r="0.8" fill="#ff70a8"/><circle cx="458.8" cy="184.3" r="0.5" fill="#ff5a98"/><circle cx="511.1" cy="179.5" r="0.8" fill="#e8306e"/><circle cx="588.4" cy="163.2" r="0.9" fill="#ff3a78"/><circle cx="545.3" cy="194.2" r="1.0" fill="#ff3a78"/><circle cx="466.7" cy="177.5" r="0.5" fill="#ff3a78"/><circle cx="528.7" cy="198.6" r="0.9" fill="#ff5a98"/><circle cx="443.0" cy="171.9" r="0.8" fill="#ff70a8"/><circle cx="583.5" cy="183.3" r="0.6" fill="#e8306e"/><circle cx="578.4" cy="155.0" r="1.0" fill="#e8306e"/><circle cx="502.4" cy="190.5" r="0.6" fill="#e8306e"/><circle cx="483.3" cy="196.0" r="0.8" fill="#d82a5a"/><circle cx="532.2" cy="206.1" r="0.8" fill="#ff5a98"/><circle cx="554.3" cy="166.6" r="1.0" fill="#d82a5a"/><circle cx="538.4" cy="220.8" r="1.0" fill="#e8306e"/><circle cx="504.5" cy="208.0" r="0.7" fill="#ff5a98"/><circle cx="465.4" cy="171.7" r="0.8" fill="#d82a5a"/><circle cx="495.7" cy="195.9" r="1.0" fill="#ff5a98"/><circle cx="450.2" cy="171.8" r="0.8" fill="#ff3a78"/><circle cx="512.6" cy="174.9" r="0.9" fill="#ff3a78"/><circle cx="533.5" cy="165.1" r="0.5" fill="#ff5a98"/><circle cx="466.3" cy="157.3" r="0.6" fill="#e8306e"/><circle cx="455.6" cy="182.5" r="0.6" fill="#e8306e"/><circle cx="525.4" cy="206.3" r="1.0" fill="#ff70a8"/><circle cx="555.0" cy="210.4" r="0.6" fill="#d82a5a"/><circle cx="539.3" cy="188.2" r="1.0" fill="#d82a5a"/><circle cx="535.8" cy="158.4" r="0.5" fill="#ff5a98"/><circle cx="494.1" cy="209.5" r="0.8" fill="#d82a5a"/><circle cx="516.9" cy="184.9" r="0.6" fill="#d82a5a"/><circle cx="465.7" cy="161.9" r="0.9" fill="#ff3a78"/><circle cx="451.5" cy="173.1" r="1.0" fill="#ff70a8"/><circle cx="507.1" cy="171.4" r="0.8" fill="#ff5a98"/><circle cx="536.5" cy="163.0" r="0.7" fill="#ff3a78"/><circle cx="428.4" cy="153.3" r="1.0" fill="#ff5a98"/><circle cx="558.4" cy="156.8" r="0.8" fill="#d82a5a"/><circle cx="549.9" cy="160.4" r="0.6" fill="#d82a5a"/><circle cx="528.2" cy="174.4" r="1.0" fill="#ff5a98"/><circle cx="481.3" cy="206.1" r="0.9" fill="#e8306e"/><circle cx="471.9" cy="174.6" r="0.7" fill="#ff70a8"/><circle cx="433.7" cy="170.8" r="0.7" fill="#d82a5a"/><circle cx="491.6" cy="186.3" r="0.7" fill="#ff70a8"/><circle cx="481.9" cy="164.7" r="0.8" fill="#ff3a78"/><circle cx="461.2" cy="153.0" r="0.7" fill="#e8306e"/><circle cx="512.3" cy="186.0" r="0.5" fill="#d82a5a"/><circle cx="539.5" cy="212.1" r="0.9" fill="#ff70a8"/><circle cx="404.9" cy="151.2" r="0.5" fill="#ff3a78"/><circle cx="516.7" cy="188.4" r="0.9" fill="#ff70a8"/><circle cx="517.3" cy="184.1" r="1.0" fill="#ff70a8"/><circle cx="570.3" cy="128.6" r="0.5" fill="#d82a5a"/><circle cx="520.1" cy="138.1" r="1.0" fill="#e8306e"/><circle cx="568.8" cy="163.8" r="0.5" fill="#ff3a78"/><circle cx="552.3" cy="178.5" r="0.7" fill="#ff5a98"/><circle cx="432.0" cy="123.6" r="0.5" fill="#d82a5a"/><circle cx="508.3" cy="180.1" r="0.5" fill="#d82a5a"/><circle cx="508.5" cy="124.1" r="0.5" fill="#d82a5a"/><circle cx="510.1" cy="215.5" r="0.8" fill="#ff3a78"/><circle cx="513.4" cy="217.5" r="0.6" fill="#d82a5a"/><circle cx="549.0" cy="177.1" r="0.5" fill="#d82a5a"/><circle cx="437.5" cy="135.8" r="0.5" fill="#d82a5a"/><circle cx="420.8" cy="121.8" r="1.0" fill="#ff70a8"/><circle cx="432.5" cy="125.2" r="1.0" fill="#e8306e"/><circle cx="540.9" cy="128.8" r="1.0" fill="#ff70a8"/><circle cx="536.8" cy="167.9" r="0.7" fill="#ff3a78"/><circle cx="538.4" cy="121.2" r="0.5" fill="#ff70a8"/><circle cx="410.9" cy="152.4" r="1.0" fill="#ff70a8"/><circle cx="492.3" cy="126.2" r="0.7" fill="#ff70a8"/><circle cx="540.6" cy="168.9" r="0.6" fill="#e8306e"/><circle cx="585.8" cy="137.1" r="0.8" fill="#d82a5a"/><circle cx="472.1" cy="201.8" r="0.7" fill="#ff70a8"/><circle cx="461.8" cy="149.1" r="0.9" fill="#ff70a8"/><circle cx="461.4" cy="183.0" r="0.5" fill="#e8306e"/><circle cx="515.2" cy="152.1" r="0.8" fill="#e8306e"/><circle cx="470.3" cy="191.2" r="0.9" fill="#e8306e"/><circle cx="556.5" cy="149.5" r="0.5" fill="#ff5a98"/><circle cx="447.6" cy="163.9" r="0.9" fill="#ff3a78"/><circle cx="452.7" cy="134.6" r="0.9" fill="#e8306e"/><circle cx="556.4" cy="191.2" r="0.8" fill="#ff5a98"/><circle cx="501.9" cy="176.2" r="0.8" fill="#d82a5a"/><circle cx="581.3" cy="144.3" r="0.9" fill="#ff3a78"/><circle cx="530.5" cy="168.4" r="0.6" fill="#ff5a98"/><circle cx="512.3" cy="121.0" r="0.8" fill="#d82a5a"/><circle cx="503.1" cy="175.8" r="0.7" fill="#ff3a78"/><circle cx="441.6" cy="135.7" r="0.7" fill="#ff70a8"/><circle cx="459.2" cy="120.3" r="0.6" fill="#e8306e"/><circle cx="437.5" cy="33.4" r="1.0" fill="#ff5a98"/><circle cx="467.6" cy="132.5" r="0.8" fill="#ff70a8"/><circle cx="487.7" cy="31.2" r="0.7" fill="#ff70a8"/><circle cx="516.4" cy="33.8" r="0.6" fill="#ff70a8"/><circle cx="492.3" cy="133.1" r="0.7" fill="#ff5a98"/><circle cx="548.4" cy="186.0" r="0.6" fill="#ff5a98"/><circle cx="468.9" cy="162.2" r="0.8" fill="#ff3a78"/><circle cx="567.6" cy="148.4" r="0.5" fill="#ff3a78"/><circle cx="446.4" cy="132.5" r="0.8" fill="#a02848"/><circle cx="484.7" cy="47.5" r="0.6" fill="#a02848"/><circle cx="406.9" cy="130.1" r="0.7" fill="#c04070"/><circle cx="536.9" cy="149.8" r="0.5" fill="#a02848"/><circle cx="458.5" cy="15.2" r="0.8" fill="#c04070"/><circle cx="416.1" cy="82.0" r="0.5" fill="#b83058"/><circle cx="491.3" cy="49.4" r="0.5" fill="#b83058"/><circle cx="538.4" cy="55.0" r="0.6" fill="#a02848"/><circle cx="484.4" cy="34.4" r="0.5" fill="#b83058"/><circle cx="441.8" cy="38.3" r="0.7" fill="#a02848"/><circle cx="485.3" cy="200.8" r="0.7" fill="#b83058"/><circle cx="477.4" cy="46.7" r="0.7" fill="#b83058"/><circle cx="416.8" cy="109.8" r="0.6" fill="#c04070"/><circle cx="528.7" cy="58.3" r="0.5" fill="#b83058"/><circle cx="546.0" cy="217.8" r="0.6" fill="#a02848"/><circle cx="414.5" cy="74.8" r="0.7" fill="#a02848"/><circle cx="556.4" cy="85.6" r="0.5" fill="#c04070"/><circle cx="452.3" cy="89.6" r="0.6" fill="#b83058"/><circle cx="509.3" cy="43.0" r="0.6" fill="#c04070"/><circle cx="430.1" cy="140.1" r="0.8" fill="#b83058"/><circle cx="430.1" cy="42.8" r="0.7" fill="#a02848"/><circle cx="498.9" cy="190.6" r="0.7" fill="#b83058"/><circle cx="451.4" cy="148.2" r="0.5" fill="#b83058"/><circle cx="468.4" cy="48.3" r="0.5" fill="#b83058"/><circle cx="499.0" cy="107.6" r="0.5" fill="#b83058"/><circle cx="537.9" cy="185.5" r="0.5" fill="#b83058"/><circle cx="494.0" cy="121.8" r="0.6" fill="#a02848"/><circle cx="443.7" cy="32.6" r="0.6" fill="#a02848"/><circle cx="457.4" cy="130.6" r="0.5" fill="#c04070"/><circle cx="542.7" cy="68.9" r="0.8" fill="#c04070"/><circle cx="442.7" cy="107.3" r="0.6" fill="#a02848"/><circle cx="449.6" cy="111.6" r="0.7" fill="#a02848"/><circle cx="419.4" cy="99.2" r="0.6" fill="#a02848"/><circle cx="424.4" cy="134.3" r="0.6" fill="#a02848"/><circle cx="479.1" cy="190.3" r="0.8" fill="#a02848"/><circle cx="550.4" cy="85.1" r="0.8" fill="#c04070"/><circle cx="555.9" cy="205.7" r="0.5" fill="#b83058"/><circle cx="498.5" cy="215.2" r="0.8" fill="#c04070"/><circle cx="521.5" cy="90.5" r="0.5" fill="#b83058"/><circle cx="481.6" cy="120.0" r="0.6" fill="#b83058"/><circle cx="582.4" cy="147.0" r="0.7" fill="#c04070"/><circle cx="519.7" cy="145.9" r="0.5" fill="#b83058"/><circle cx="442.3" cy="22.3" r="0.7" fill="#c04070"/><circle cx="513.0" cy="209.7" r="0.6" fill="#b83058"/><circle cx="578.1" cy="135.2" r="0.5" fill="#c04070"/><circle cx="504.3" cy="190.3" r="0.6" fill="#c04070"/><circle cx="472.3" cy="129.2" r="0.7" fill="#c04070"/><circle cx="490.6" cy="186.0" r="0.7" fill="#a02848"/><circle cx="432.8" cy="128.6" r="0.5" fill="#b83058"/><circle cx="459.8" cy="82.4" r="0.6" fill="#b83058"/><circle cx="505.2" cy="141.2" r="0.5" fill="#c04070"/><circle cx="472.6" cy="106.4" r="0.6" fill="#c04070"/><circle cx="462.4" cy="88.0" r="0.7" fill="#c04070"/><circle cx="448.7" cy="146.4" r="0.8" fill="#a02848"/><circle cx="512.2" cy="118.6" r="0.8" fill="#b83058"/><circle cx="569.6" cy="141.5" r="0.8" fill="#b83058"/><circle cx="539.6" cy="75.5" r="0.8" fill="#c04070"/><circle cx="459.4" cy="179.3" r="0.8" fill="#b83058"/><circle cx="431.8" cy="77.8" r="0.8" fill="#c04070"/><circle cx="441.4" cy="186.5" r="0.6" fill="#b83058"/><circle cx="435.9" cy="103.6" r="0.5" fill="#b83058"/><circle cx="508.0" cy="118.4" r="0.8" fill="#c04070"/><circle cx="560.1" cy="166.7" r="0.8" fill="#b83058"/><circle cx="403.1" cy="156.0" r="0.5" fill="#c04070"/><circle cx="440.9" cy="100.0" r="0.6" fill="#a02848"/><circle cx="483.0" cy="145.2" r="0.5" fill="#a02848"/><circle cx="467.5" cy="91.0" r="0.6" fill="#a02848"/><circle cx="526.2" cy="75.9" r="0.8" fill="#c04070"/><circle cx="426.3" cy="74.9" r="0.6" fill="#b83058"/><circle cx="431.5" cy="146.3" r="0.7" fill="#c04070"/><circle cx="552.5" cy="78.4" r="0.5" fill="#b83058"/><circle cx="474.5" cy="34.7" r="0.6" fill="#a02848"/><circle cx="494.6" cy="130.2" r="0.6" fill="#c04070"/><circle cx="434.7" cy="140.4" r="0.5" fill="#a02848"/><circle cx="499.5" cy="186.9" r="0.5" fill="#c04070"/><circle cx="459.6" cy="164.2" r="0.6" fill="#a02848"/><circle cx="448.3" cy="34.9" r="0.7" fill="#a02848"/><circle cx="485.0" cy="95.0" r="0.8" fill="#c04070"/><circle cx="439.6" cy="47.5" r="0.7" fill="#a02848"/><circle cx="574.8" cy="185.3" r="0.7" fill="#b83058"/><circle cx="530.5" cy="155.7" r="1.6" fill="#34a040" opacity="0.7"/><circle cx="439.3" cy="78.9" r="1.3" fill="#34a040" opacity="0.7"/><circle cx="470.8" cy="15.6" r="1.0" fill="#34a040" opacity="0.7"/><circle cx="474.2" cy="90.2" r="1.0" fill="#34a040" opacity="0.7"/><circle cx="501.8" cy="95.0" r="1.3" fill="#34a040" opacity="0.7"/><circle cx="525.3" cy="215.9" r="1.3" fill="#34a040" opacity="0.7"/><circle cx="560.2" cy="87.8" r="0.8" fill="#34a040" opacity="0.7"/><circle cx="472.5" cy="112.1" r="1.0" fill="#34a040" opacity="0.7"/><circle cx="442.4" cy="21.3" r="0.6" fill="#34a040" opacity="0.7"/><circle cx="463.3" cy="46.7" r="0.8" fill="#34a040" opacity="0.7"/><circle cx="483.7" cy="189.6" r="0.8" fill="#34a040" opacity="0.7"/><circle cx="426.8" cy="88.1" r="1.3" fill="#34a040" opacity="0.7"/><circle cx="496.0" cy="61.7" r="1.3" fill="#34a040" opacity="0.7"/><circle cx="530.1" cy="211.8" r="1.0" fill="#34a040" opacity="0.7"/><circle cx="514.2" cy="106.5" r="1.0" fill="#34a040" opacity="0.7"/><circle cx="501.9" cy="98.9" r="1.6" fill="#34a040" opacity="0.7"/><circle cx="419.6" cy="121.7" r="1.6" fill="#34a040" opacity="0.7"/><circle cx="565.4" cy="168.5" r="1.3" fill="#34a040" opacity="0.7"/><circle cx="537.1" cy="159.9" r="0.8" fill="#34a040" opacity="0.7"/><circle cx="459.2" cy="153.2" r="0.6" fill="#34a040" opacity="0.7"/><circle cx="556.0" cy="173.3" r="0.8" fill="#34a040" opacity="0.7"/><circle cx="440.3" cy="40.5" r="1.3" fill="#34a040" opacity="0.7"/><circle cx="451.5" cy="98.7" r="1.3" fill="#34a040" opacity="0.7"/><circle cx="550.0" cy="199.4" r="0.8" fill="#34a040" opacity="0.7"/><circle cx="482" cy="18" r="1.4" fill="#48d048" opacity="0.85"/><circle cx="487" cy="20" r="1.6" fill="#48d048" opacity="0.85"/><circle cx="493" cy="19" r="1.2" fill="#48d048" opacity="0.85"/><circle cx="498" cy="22" r="1.3" fill="#48d048" opacity="0.85"/><circle cx="479" cy="210" r="1.8" fill="#48d048" opacity="0.85"/><circle cx="484" cy="211" r="1.6" fill="#48d048" opacity="0.85"/><circle cx="490" cy="212" r="1.7" fill="#48d048" opacity="0.85"/><circle cx="506" cy="213" r="1.4" fill="#48d048" opacity="0.85"/><circle cx="434" cy="176" r="1.5" fill="#48d048" opacity="0.85"/><circle cx="454" cy="188" r="1.8" fill="#48d048" opacity="0.85"/><circle cx="452" cy="190" r="1.3" fill="#48d048" opacity="0.85"/><circle cx="520" cy="221" r="1.4" fill="#48d048" opacity="0.85"/><circle cx="530" cy="222" r="1.2" fill="#48d048" opacity="0.85"/><circle cx="402" cy="116" r="1.2" fill="#48d048" opacity="0.85"/><circle cx="395" cy="137" r="1.0" fill="#48d048" opacity="0.85"/>
</g>
<text x="599" y="25.3" font-size="10" fill="#3aa4c8">DAPI</text>
<text x="599" y="36.3" font-size="10" fill="#5cc040">Iba1</text>
<text x="599" y="47.5" font-size="10" fill="#c83232">TUNEL</text>
<path d="M509.8,26.8 Q507.6,29.7 509.4,32.8" fill="none" stroke="#4cc050" stroke-width="1.1"/>
<rect x="503.6" y="24.6" width="12" height="10.6" fill="none" stroke="#f0f0f0" stroke-width="1"/>
<line x1="586.00" y1="214.40" x2="617.00" y2="214.40" stroke="#c8c8c8" stroke-width="0.6" />
<line x1="586.20" y1="213.60" x2="586.20" y2="215.20" stroke="#aaa" stroke-width="0.4" />
<line x1="616.80" y1="213.60" x2="616.80" y2="215.20" stroke="#aaa" stroke-width="0.4" />
<text x="601.2" y="213.0" font-size="5.4" text-anchor="middle" fill="#d8d8d8">100 µm</text>
<defs><filter id="sb2" x="-50%" y="-50%" width="200%" height="200%"><feGaussianBlur stdDeviation="2"/></filter><filter id="sb1" x="-50%" y="-50%" width="200%" height="200%"><feGaussianBlur stdDeviation="1"/></filter><filter id="sb05" x="-50%" y="-50%" width="200%" height="200%"><feGaussianBlur stdDeviation="0.6"/></filter><radialGradient id="pbg" cx="0.5" cy="0.5" r="0.7"><stop offset="0" stop-color="#0a1822"/><stop offset="1" stop-color="#050c12"/></radialGradient><radialGradient id="pbg3" cx="0.5" cy="0.5" r="0.7"><stop offset="0" stop-color="#0a1a1e"/><stop offset="1" stop-color="#050e10"/></radialGradient><clipPath id="pc0"><rect x="374.6" y="232.6" width="86.6" height="86.0"/></clipPath><clipPath id="pc1"><rect x="464.2" y="232.6" width="86.3" height="86.0"/></clipPath><clipPath id="pc2"><rect x="552.3" y="232.6" width="86.4" height="86.0"/></clipPath></defs>
<g clip-path="url(#pc0)"><rect x="374.6" y="232.6" width="86.6" height="86.0" fill="url(#pbg)"/>
<path d="M414,250 C419,247 424,249 424.5,254 C425,264 421,275 416.5,281 C413,283 410,279 409.5,272 C409,264 410,255 414,250 Z" fill="#3f7fb8" opacity="0.5249999999999999" filter="url(#sb05)"/><path d="M414,250 C419,247 424,249 424.5,254 C425,264 421,275 416.5,281 C413,283 410,279 409.5,272 C409,264 410,255 414,250 Z" fill="none" stroke="#5a9ad0" stroke-width="0.8" opacity="0.55" filter="url(#sb05)"/><circle cx="413.9" cy="266.2" r="0.8" fill="#6aa8d8" opacity="0.35"/><circle cx="422.0" cy="264.3" r="1.0" fill="#6aa8d8" opacity="0.35"/><circle cx="411.8" cy="251.4" r="0.8" fill="#6aa8d8" opacity="0.35"/><circle cx="414.1" cy="257.6" r="1.0" fill="#6aa8d8" opacity="0.35"/><circle cx="416.6" cy="274.4" r="0.8" fill="#6aa8d8" opacity="0.35"/><circle cx="415.8" cy="275.1" r="0.6" fill="#6aa8d8" opacity="0.35"/><circle cx="418.6" cy="275.3" r="1.0" fill="#6aa8d8" opacity="0.35"/><circle cx="415.7" cy="251.4" r="0.6" fill="#6aa8d8" opacity="0.35"/><circle cx="412.9" cy="277.8" r="0.6" fill="#6aa8d8" opacity="0.35"/><circle cx="414.6" cy="251.9" r="0.8" fill="#6aa8d8" opacity="0.35"/><circle cx="416.7" cy="271.1" r="0.8" fill="#6aa8d8" opacity="0.35"/><circle cx="419.6" cy="276.8" r="0.8" fill="#6aa8d8" opacity="0.35"/><circle cx="419.7" cy="267.2" r="0.6" fill="#6aa8d8" opacity="0.35"/><circle cx="421.5" cy="253.7" r="0.6" fill="#6aa8d8" opacity="0.35"/><circle cx="416.9" cy="258.2" r="1.0" fill="#6aa8d8" opacity="0.35"/><circle cx="416.2" cy="268.5" r="0.8" fill="#6aa8d8" opacity="0.35"/><circle cx="416.1" cy="274.3" r="1.0" fill="#6aa8d8" opacity="0.35"/><circle cx="415.2" cy="267.4" r="1.0" fill="#6aa8d8" opacity="0.35"/><circle cx="413.8" cy="260.4" r="0.6" fill="#6aa8d8" opacity="0.35"/><circle cx="421.3" cy="278.7" r="1.0" fill="#6aa8d8" opacity="0.35"/><circle cx="419.3" cy="270.6" r="0.8" fill="#6aa8d8" opacity="0.35"/><circle cx="422.6" cy="276.3" r="1.0" fill="#6aa8d8" opacity="0.35"/><circle cx="413.5" cy="243.5" r="2.2" fill="#4a8ac8" opacity="0.85" filter="url(#sb05)"/><circle cx="417" cy="246.2" r="2.0" fill="#4a8ac8" opacity="0.8" filter="url(#sb05)"/><circle cx="419.8" cy="248.5" r="1.8" fill="#4a8ac8" opacity="0.7" filter="url(#sb05)"/><circle cx="411.5" cy="250.5" r="1.6" fill="#4a8ac8" opacity="0.6" filter="url(#sb05)"/><ellipse cx="427" cy="252.3" rx="3.8" ry="2.3" fill="#4a8ac8" opacity="0.75" filter="url(#sb05)"/><ellipse cx="411.5" cy="288" rx="5.5" ry="8" fill="#3f7fb8" opacity="0.315" filter="url(#sb2)"/><circle cx="412.5" cy="292.5" r="2.8" fill="#3f7fb8" opacity="0.42" filter="url(#sb1)"/><ellipse cx="419" cy="316" rx="9" ry="4" fill="#3f7fb8" opacity="0.35" filter="url(#sb2)"/>
<circle cx="414.5" cy="244" r="1.6" fill="#5aa8e8" opacity="0.9" filter="url(#sb05)"/>
<circle cx="407.4" cy="255.8" r="1.7" fill="#5aa8e8" opacity="0.9" filter="url(#sb05)"/>
<circle cx="411.3" cy="261.5" r="1.8" fill="#5aa8e8" opacity="0.9" filter="url(#sb05)"/>
<circle cx="408.7" cy="272.9" r="1.8" fill="#5aa8e8" opacity="0.9" filter="url(#sb05)"/>
<circle cx="422" cy="302" r="1.6" fill="#5aa8e8" opacity="0.9" filter="url(#sb05)"/>
<path d="M385.8,262.5 L399.5,262.5 L399.5,260.8 L403.8,263.1 L399.5,265.40000000000003 L399.5,263.70000000000005 L385.8,263.70000000000005 Z" fill="#e02a20"/>
<path d="M385.8,272.29999999999995 L399.5,272.29999999999995 L399.5,270.59999999999997 L403.8,272.9 L399.5,275.2 L399.5,273.5 L385.8,273.5 Z" fill="#e02a20"/>
<line x1="440.8" y1="287.6" x2="455.6" y2="287.6" stroke="#d8d8d8" stroke-width="0.6"/>
<text x="448.2" y="287.0" font-size="4.6" text-anchor="middle" fill="#e0e0e0">2 µm</text>
</g>
<g clip-path="url(#pc1)"><rect x="464.2" y="232.6" width="86.3" height="86.0" fill="url(#pbg)"/>
<path d="M501.5,250 C506.5,247 511.5,249 512.0,254 C512.5,264 508.5,275 504.0,281 C500.5,283 497.5,279 497.0,272 C496.5,264 497.5,255 501.5,250 Z" fill="#3f7fb8" opacity="0.5249999999999999" filter="url(#sb05)"/><path d="M501.5,250 C506.5,247 511.5,249 512.0,254 C512.5,264 508.5,275 504.0,281 C500.5,283 497.5,279 497.0,272 C496.5,264 497.5,255 501.5,250 Z" fill="none" stroke="#5a9ad0" stroke-width="0.8" opacity="0.55" filter="url(#sb05)"/><circle cx="508.1" cy="266.8" r="0.8" fill="#6aa8d8" opacity="0.35"/><circle cx="508.1" cy="262.1" r="0.8" fill="#6aa8d8" opacity="0.35"/><circle cx="499.6" cy="278.5" r="0.6" fill="#6aa8d8" opacity="0.35"/><circle cx="501.3" cy="278.8" r="0.8" fill="#6aa8d8" opacity="0.35"/><circle cx="499.5" cy="260.2" r="0.8" fill="#6aa8d8" opacity="0.35"/><circle cx="507.9" cy="279.0" r="0.8" fill="#6aa8d8" opacity="0.35"/><circle cx="501.9" cy="272.5" r="0.6" fill="#6aa8d8" opacity="0.35"/><circle cx="499.3" cy="266.0" r="0.8" fill="#6aa8d8" opacity="0.35"/><circle cx="508.7" cy="268.5" r="1.0" fill="#6aa8d8" opacity="0.35"/><circle cx="502.9" cy="255.3" r="1.0" fill="#6aa8d8" opacity="0.35"/><circle cx="503.6" cy="264.0" r="1.0" fill="#6aa8d8" opacity="0.35"/><circle cx="509.6" cy="257.0" r="0.8" fill="#6aa8d8" opacity="0.35"/><circle cx="499.6" cy="272.7" r="1.0" fill="#6aa8d8" opacity="0.35"/><circle cx="503.1" cy="267.1" r="0.6" fill="#6aa8d8" opacity="0.35"/><circle cx="510.3" cy="257.7" r="0.6" fill="#6aa8d8" opacity="0.35"/><circle cx="505.1" cy="265.4" r="0.8" fill="#6aa8d8" opacity="0.35"/><circle cx="504.2" cy="270.8" r="0.8" fill="#6aa8d8" opacity="0.35"/><circle cx="510.0" cy="255.3" r="0.8" fill="#6aa8d8" opacity="0.35"/><circle cx="506.4" cy="265.8" r="0.8" fill="#6aa8d8" opacity="0.35"/><circle cx="501.2" cy="254.3" r="0.6" fill="#6aa8d8" opacity="0.35"/><circle cx="507.4" cy="272.1" r="0.6" fill="#6aa8d8" opacity="0.35"/><circle cx="500.4" cy="272.5" r="1.0" fill="#6aa8d8" opacity="0.35"/><circle cx="501.0" cy="243.5" r="2.2" fill="#4a8ac8" opacity="0.85" filter="url(#sb05)"/><circle cx="504.5" cy="246.2" r="2.0" fill="#4a8ac8" opacity="0.8" filter="url(#sb05)"/><circle cx="507.3" cy="248.5" r="1.8" fill="#4a8ac8" opacity="0.7" filter="url(#sb05)"/><circle cx="499.0" cy="250.5" r="1.6" fill="#4a8ac8" opacity="0.6" filter="url(#sb05)"/><ellipse cx="514.5" cy="252.3" rx="3.8" ry="2.3" fill="#4a8ac8" opacity="0.75" filter="url(#sb05)"/><ellipse cx="499.0" cy="288" rx="5.5" ry="8" fill="#3f7fb8" opacity="0.315" filter="url(#sb2)"/><circle cx="500.0" cy="292.5" r="2.8" fill="#3f7fb8" opacity="0.42" filter="url(#sb1)"/><ellipse cx="506.5" cy="316" rx="9" ry="4" fill="#3f7fb8" opacity="0.35" filter="url(#sb2)"/>
<circle cx="502.3" cy="244" r="2.21" fill="#d83ca8" opacity="0.85" filter="url(#sb05)"/>
<circle cx="502.3" cy="244" r="1.02" fill="#ffc0f0" opacity="0.85" filter="url(#sb05)"/>
<circle cx="506" cy="246.9" r="2.08" fill="#d83ca8" opacity="0.85" filter="url(#sb05)"/>
<circle cx="506" cy="246.9" r="0.96" fill="#ffc0f0" opacity="0.85" filter="url(#sb05)"/>
<circle cx="515.5" cy="251.3" r="2.21" fill="#d83ca8" opacity="0.85" filter="url(#sb05)"/>
<circle cx="515.5" cy="251.3" r="1.02" fill="#ffc0f0" opacity="0.85" filter="url(#sb05)"/>
<circle cx="494.6" cy="256.4" r="2.34" fill="#d83ca8" opacity="0.85" filter="url(#sb05)"/>
<circle cx="494.6" cy="256.4" r="1.08" fill="#ffc0f0" opacity="0.85" filter="url(#sb05)"/>
<circle cx="498.7" cy="253.5" r="1.82" fill="#d83ca8" opacity="0.85" filter="url(#sb05)"/>
<circle cx="498.7" cy="253.5" r="0.84" fill="#ffc0f0" opacity="0.85" filter="url(#sb05)"/>
<circle cx="498.2" cy="261.5" r="2.47" fill="#d83ca8" opacity="0.85" filter="url(#sb05)"/>
<circle cx="498.2" cy="261.5" r="1.14" fill="#ffc0f0" opacity="0.85" filter="url(#sb05)"/>
<circle cx="496.8" cy="272.9" r="2.47" fill="#d83ca8" opacity="0.85" filter="url(#sb05)"/>
<circle cx="496.8" cy="272.9" r="1.14" fill="#ffc0f0" opacity="0.85" filter="url(#sb05)"/>
<circle cx="497.2" cy="284.9" r="1.56" fill="#d83ca8" opacity="0.85" filter="url(#sb05)"/>
<circle cx="497.2" cy="284.9" r="0.72" fill="#ffc0f0" opacity="0.85" filter="url(#sb05)"/>
<circle cx="500.9" cy="289.2" r="1.82" fill="#d83ca8" opacity="0.85" filter="url(#sb05)"/>
<circle cx="500.9" cy="289.2" r="0.84" fill="#ffc0f0" opacity="0.85" filter="url(#sb05)"/>
<circle cx="503" cy="292.9" r="1.69" fill="#d83ca8" opacity="0.85" filter="url(#sb05)"/>
<circle cx="503" cy="292.9" r="0.78" fill="#ffc0f0" opacity="0.85" filter="url(#sb05)"/>
<circle cx="509.6" cy="302" r="2.08" fill="#d83ca8" opacity="0.85" filter="url(#sb05)"/>
<circle cx="509.6" cy="302" r="0.96" fill="#ffc0f0" opacity="0.85" filter="url(#sb05)"/>
<line x1="527.9" y1="288" x2="544" y2="288" stroke="#d8d8d8" stroke-width="0.6"/>
<text x="536" y="287.3" font-size="4.6" text-anchor="middle" fill="#e0e0e0">5 µm</text>
</g>
<g clip-path="url(#pc2)"><rect x="552.3" y="232.6" width="86.4" height="86.0" fill="url(#pbg3)"/>
<path d="M591.4,250 C596.4,247 601.4,249 601.9,254 C602.4,264 598.4,275 593.9,281 C590.4,283 587.4,279 586.9,272 C586.4,264 587.4,255 591.4,250 Z" fill="#3f7fb8" opacity="0.5249999999999999" filter="url(#sb05)"/><path d="M591.4,250 C596.4,247 601.4,249 601.9,254 C602.4,264 598.4,275 593.9,281 C590.4,283 587.4,279 586.9,272 C586.4,264 587.4,255 591.4,250 Z" fill="none" stroke="#5a9ad0" stroke-width="0.8" opacity="0.55" filter="url(#sb05)"/><circle cx="595.5" cy="272.1" r="0.6" fill="#6aa8d8" opacity="0.35"/><circle cx="598.8" cy="251.7" r="0.6" fill="#6aa8d8" opacity="0.35"/><circle cx="588.9" cy="275.2" r="0.8" fill="#6aa8d8" opacity="0.35"/><circle cx="597.6" cy="266.1" r="0.8" fill="#6aa8d8" opacity="0.35"/><circle cx="594.3" cy="260.7" r="0.8" fill="#6aa8d8" opacity="0.35"/><circle cx="598.2" cy="252.5" r="0.6" fill="#6aa8d8" opacity="0.35"/><circle cx="594.7" cy="257.9" r="1.0" fill="#6aa8d8" opacity="0.35"/><circle cx="591.3" cy="263.9" r="1.0" fill="#6aa8d8" opacity="0.35"/><circle cx="595.3" cy="257.0" r="0.8" fill="#6aa8d8" opacity="0.35"/><circle cx="600.3" cy="277.8" r="0.6" fill="#6aa8d8" opacity="0.35"/><circle cx="589.5" cy="263.6" r="0.8" fill="#6aa8d8" opacity="0.35"/><circle cx="594.2" cy="263.5" r="1.0" fill="#6aa8d8" opacity="0.35"/><circle cx="592.8" cy="256.1" r="1.0" fill="#6aa8d8" opacity="0.35"/><circle cx="596.6" cy="262.6" r="0.8" fill="#6aa8d8" opacity="0.35"/><circle cx="588.7" cy="266.9" r="0.6" fill="#6aa8d8" opacity="0.35"/><circle cx="590.5" cy="276.9" r="1.0" fill="#6aa8d8" opacity="0.35"/><circle cx="596.2" cy="262.8" r="0.6" fill="#6aa8d8" opacity="0.35"/><circle cx="591.1" cy="263.4" r="0.6" fill="#6aa8d8" opacity="0.35"/><circle cx="592.8" cy="264.9" r="0.8" fill="#6aa8d8" opacity="0.35"/><circle cx="588.5" cy="257.2" r="0.6" fill="#6aa8d8" opacity="0.35"/><circle cx="591.2" cy="256.7" r="0.6" fill="#6aa8d8" opacity="0.35"/><circle cx="594.8" cy="256.8" r="1.0" fill="#6aa8d8" opacity="0.35"/><circle cx="590.9" cy="243.5" r="2.2" fill="#4a8ac8" opacity="0.85" filter="url(#sb05)"/><circle cx="594.4" cy="246.2" r="2.0" fill="#4a8ac8" opacity="0.8" filter="url(#sb05)"/><circle cx="597.2" cy="248.5" r="1.8" fill="#4a8ac8" opacity="0.7" filter="url(#sb05)"/><circle cx="588.9" cy="250.5" r="1.6" fill="#4a8ac8" opacity="0.6" filter="url(#sb05)"/><ellipse cx="604.4" cy="252.3" rx="3.8" ry="2.3" fill="#4a8ac8" opacity="0.75" filter="url(#sb05)"/><ellipse cx="588.9" cy="288" rx="5.5" ry="8" fill="#3f7fb8" opacity="0.315" filter="url(#sb2)"/><circle cx="589.9" cy="292.5" r="2.8" fill="#3f7fb8" opacity="0.42" filter="url(#sb1)"/><ellipse cx="596.4" cy="316" rx="9" ry="4" fill="#3f7fb8" opacity="0.35" filter="url(#sb2)"/>
<ellipse cx="593.2" cy="248" rx="4.6" ry="4.2" fill="#48e070" opacity="0.95" filter="url(#sb1)"/>
<ellipse cx="604.5" cy="252.4" rx="5" ry="3.2" fill="#48e070" opacity="0.95" filter="url(#sb1)"/>
<ellipse cx="586.8" cy="258.3" rx="3.2" ry="5" fill="#48e070" opacity="0.9" filter="url(#sb1)"/>
<ellipse cx="588" cy="275.5" rx="2.4" ry="2" fill="#48e070" opacity="0.7" filter="url(#sb1)"/>
<ellipse cx="588" cy="283" rx="7" ry="6" fill="#48e070" opacity="0.5" filter="url(#sb1)"/>
<ellipse cx="590.3" cy="292.8" rx="4.8" ry="4.2" fill="#48e070" opacity="0.95" filter="url(#sb1)"/>
<ellipse cx="601" cy="302.5" rx="4.5" ry="5" fill="#48e070" opacity="0.45" filter="url(#sb1)"/>
<circle cx="591.7" cy="243.2" r="1.5" fill="#f0d0f0" opacity="0.95" filter="url(#sb05)"/>
<circle cx="605.6" cy="250.5" r="1.3" fill="#f0d0f0" opacity="0.95" filter="url(#sb05)"/>
<circle cx="584.4" cy="255.7" r="1.6" fill="#f0d0f0" opacity="0.95" filter="url(#sb05)"/>
<circle cx="588.4" cy="260.8" r="1.6" fill="#f0d0f0" opacity="0.95" filter="url(#sb05)"/>
<circle cx="586.6" cy="272.4" r="1.6" fill="#f0d0f0" opacity="0.95" filter="url(#sb05)"/>
<circle cx="591.7" cy="288.5" r="1.2" fill="#f0d0f0" opacity="0.95" filter="url(#sb05)"/>
<circle cx="593" cy="291" r="1.1" fill="#f0d0f0" opacity="0.95" filter="url(#sb05)"/>
<circle cx="599.7" cy="300.9" r="1.5" fill="#f0d0f0" opacity="0.95" filter="url(#sb05)"/>
<line x1="618" y1="287.6" x2="634" y2="287.6" stroke="#d8d8d8" stroke-width="0.6"/>
<text x="626" y="286.9" font-size="4.6" text-anchor="middle" fill="#e0e0e0">5 µm</text>
</g>
</svg></body></html>
